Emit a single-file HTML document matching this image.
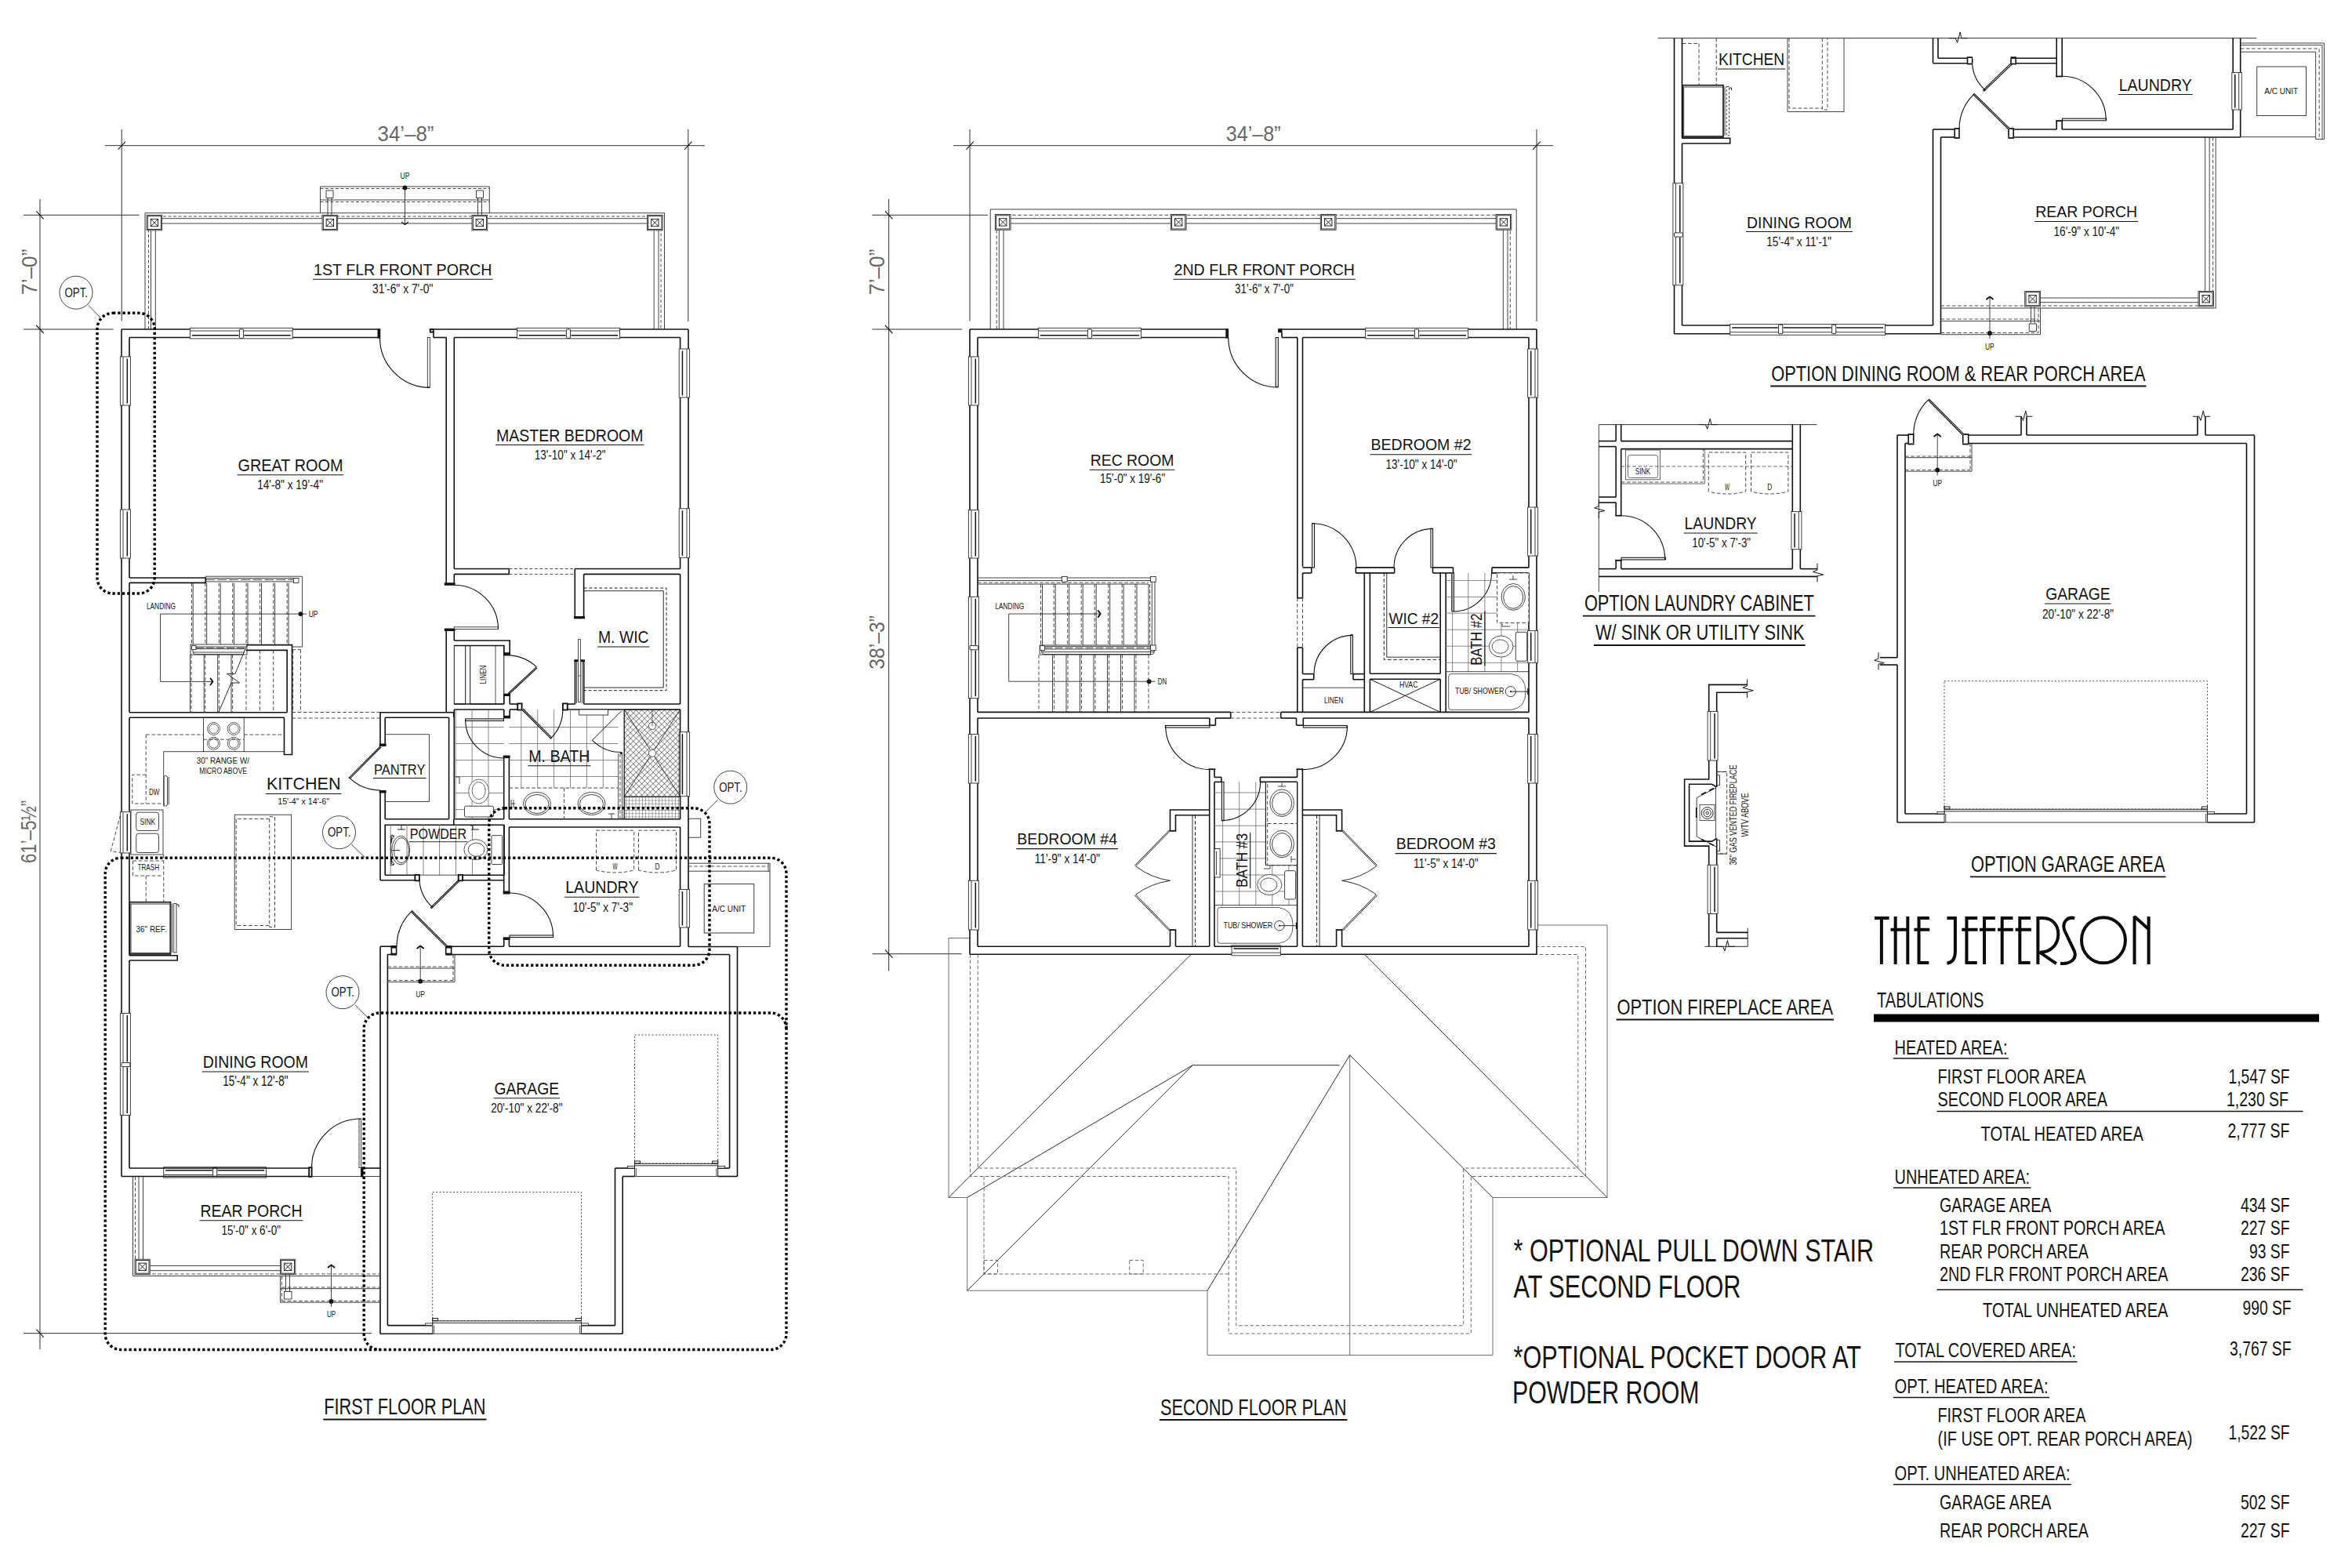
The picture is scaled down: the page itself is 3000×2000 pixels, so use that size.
<!DOCTYPE html>
<html><head><meta charset="utf-8"><title>The Jefferson</title>
<style>html,body{margin:0;padding:0;background:#fff}svg{display:block}text{font-family:"Liberation Sans",sans-serif}</style></head>
<body>
<svg width="3000" height="2000" viewBox="0 0 3000 2000" fill="none" stroke-linecap="butt">
<rect x="0" y="0" width="3000" height="2000" fill="#fff"/>
<g id="f1">
<path d="M134 185.7L899 185.7" stroke="#2e2e2e" stroke-width="1"/>
<path d="M155.2 165L155.2 409.5" stroke="#2e2e2e" stroke-width="1"/>
<path d="M877.8 165L877.8 410" stroke="#2e2e2e" stroke-width="1"/>
<path d="M150.7 190.7L160 180.7" stroke="#141414" stroke-width="1.1"/>
<path d="M873.2 190.7L882.5 180.7" stroke="#141414" stroke-width="1.1"/>
<path d="M51 253.7L51 1721" stroke="#2e2e2e" stroke-width="1"/>
<path d="M30 274.3L177.5 274.3" stroke="#2e2e2e" stroke-width="1"/>
<path d="M30 420L144.5 420" stroke="#2e2e2e" stroke-width="1"/>
<path d="M30 1700.7L474 1700.7" stroke="#2e2e2e" stroke-width="1"/>
<path d="M46.3 269.3L55.7 279.3" stroke="#141414" stroke-width="1.1"/>
<path d="M46.3 415L55.7 425" stroke="#141414" stroke-width="1.1"/>
<path d="M46.3 1695.7L55.7 1705.7" stroke="#141414" stroke-width="1.1"/>
<path d="M185 420L185 271.7L847.5 271.7L847.5 420" stroke="#383838" stroke-width="0.95" fill="none"/>
<path d="M189.5 420L189.5 276L843 276L843 420" stroke="#383838" stroke-width="0.9" fill="none" stroke-dasharray="4 2.5"/>
<path d="M207 278.7L602 278.7" stroke="#141414" stroke-width="0.8"/>
<path d="M207 285L602 285" stroke="#141414" stroke-width="0.8"/>
<path d="M621.5 278.7L825.5 278.7" stroke="#141414" stroke-width="0.8"/>
<path d="M621.5 285L825.5 285" stroke="#141414" stroke-width="0.8"/>
<path d="M192.5 293.7L192.5 420" stroke="#141414" stroke-width="0.8"/>
<path d="M198.3 293.7L198.3 420" stroke="#141414" stroke-width="0.8"/>
<path d="M834.2 293.7L834.2 420" stroke="#141414" stroke-width="0.8"/>
<path d="M840 293.7L840 420" stroke="#141414" stroke-width="0.8"/>
<path d="M408.5 271.7L408.5 238L624.3 238L624.3 271.7" stroke="#383838" stroke-width="0.95" fill="none"/>
<path d="M408.5 255L624.3 255" stroke="#383838" stroke-width="0.95"/>
<path d="M408.5 240.5L624.3 240.5" stroke="#383838" stroke-width="0.9" stroke-dasharray="4 2.5"/>
<path d="M408.5 257.5L624.3 257.5" stroke="#383838" stroke-width="0.9" stroke-dasharray="4 2.5"/>
<rect x="416" y="243" width="9" height="9.5" stroke="#141414" stroke-width="0.8" fill="#fff"/>
<path d="M418 252.5L418 274" stroke="#141414" stroke-width="0.8"/>
<path d="M423 252.5L423 274" stroke="#141414" stroke-width="0.8"/>
<rect x="607.5" y="243" width="9" height="9.5" stroke="#141414" stroke-width="0.8" fill="#fff"/>
<path d="M609.5 252.5L609.5 274" stroke="#141414" stroke-width="0.8"/>
<path d="M614.5 252.5L614.5 274" stroke="#141414" stroke-width="0.8"/>
<rect x="187" y="274.3" width="19.7" height="19.5" stroke="#383838" stroke-width="0.9" fill="#fff"/>
<rect x="188.3" y="275.6" width="17.1" height="16.9" stroke="#141414" stroke-width="0.9" fill="#fff"/>
<rect x="192.15" y="279.35" width="9.4" height="9.4" stroke="#141414" stroke-width="0.9" fill="#fff"/>
<path d="M192.15 279.35L201.55 288.75" stroke="#141414" stroke-width="0.9"/>
<path d="M192.15 288.75L201.55 279.35" stroke="#141414" stroke-width="0.9"/>
<rect x="411" y="274.3" width="19.7" height="19.5" stroke="#383838" stroke-width="0.9" fill="#fff"/>
<rect x="412.3" y="275.6" width="17.1" height="16.9" stroke="#141414" stroke-width="0.9" fill="#fff"/>
<rect x="416.15" y="279.35" width="9.4" height="9.4" stroke="#141414" stroke-width="0.9" fill="#fff"/>
<path d="M416.15 279.35L425.55 288.75" stroke="#141414" stroke-width="0.9"/>
<path d="M416.15 288.75L425.55 279.35" stroke="#141414" stroke-width="0.9"/>
<rect x="602" y="274.3" width="19.7" height="19.5" stroke="#383838" stroke-width="0.9" fill="#fff"/>
<rect x="603.3" y="275.6" width="17.1" height="16.9" stroke="#141414" stroke-width="0.9" fill="#fff"/>
<rect x="607.15" y="279.35" width="9.4" height="9.4" stroke="#141414" stroke-width="0.9" fill="#fff"/>
<path d="M607.15 279.35L616.55 288.75" stroke="#141414" stroke-width="0.9"/>
<path d="M607.15 288.75L616.55 279.35" stroke="#141414" stroke-width="0.9"/>
<rect x="825.5" y="274.3" width="19.7" height="19.5" stroke="#383838" stroke-width="0.9" fill="#fff"/>
<rect x="826.8" y="275.6" width="17.1" height="16.9" stroke="#141414" stroke-width="0.9" fill="#fff"/>
<rect x="830.65" y="279.35" width="9.4" height="9.4" stroke="#141414" stroke-width="0.9" fill="#fff"/>
<path d="M830.65 279.35L840.05 288.75" stroke="#141414" stroke-width="0.9"/>
<path d="M830.65 288.75L840.05 279.35" stroke="#141414" stroke-width="0.9"/>
<path d="M516.5 239.5L516.5 286" stroke="#141414" stroke-width="0.8"/>
<circle cx="516.5" cy="239.5" r="2.9" stroke="#141414" stroke-width="0" fill="#141414"/>
<path d="M512.2 283.27L516.5 286.5L520.8 283.27" stroke="#141414" stroke-width="1.3" fill="none" stroke-linejoin="round"/>
<text x="510.5" y="227.5" font-size="11.05" fill="#141414" font-family="Liberation Sans" textLength="12" lengthAdjust="spacingAndGlyphs" stroke="none">UP</text>
<path d="M155 420L484.5 420" stroke="#141414" stroke-width="1.62"/>
<path d="M548.7 420L878 420" stroke="#141414" stroke-width="1.62"/>
<path d="M165 430.5L484.5 430.5" stroke="#141414" stroke-width="1.62"/>
<path d="M553 430.5L569.2 430.5" stroke="#141414" stroke-width="1.62"/>
<path d="M579.3 430.5L867.6 430.5" stroke="#141414" stroke-width="1.62"/>
<rect x="481.5" y="419.4" width="3.8" height="12.1" fill="#141414" stroke="none"/>
<rect x="548.7" y="420.1" width="4.1" height="3.5" stroke="#141414" stroke-width="1.9" fill="#fff"/>
<path d="M553 424L553 430.5" stroke="#141414" stroke-width="1.62"/>
<rect x="545.3" y="430.5" width="3" height="63.3" stroke="#141414" stroke-width="0.8" fill="#fff"/>
<path d="M484.5 430.5A63.8 63.8 0 0 0 548.3 494.3" stroke="#141414" stroke-width="1.15" fill="none" />
<path d="M155 420L155 1500.5" stroke="#141414" stroke-width="1.62"/>
<path d="M165 430.5L165 737" stroke="#141414" stroke-width="1.62"/>
<path d="M165 743.4L165 908.7" stroke="#141414" stroke-width="1.62"/>
<path d="M165 915.2L165 1218.7" stroke="#141414" stroke-width="1.62"/>
<path d="M165 1225L165 1490" stroke="#141414" stroke-width="1.62"/>
<path d="M878 420L878 1207.5" stroke="#141414" stroke-width="1.62"/>
<path d="M867.6 430.5L867.6 725.5" stroke="#141414" stroke-width="1.62"/>
<path d="M867.6 732.4L867.6 898" stroke="#141414" stroke-width="1.62"/>
<path d="M867.6 905L867.6 1045" stroke="#141414" stroke-width="1.62"/>
<path d="M867.6 1055L867.6 1207" stroke="#141414" stroke-width="1.62"/>
<path d="M569.2 430.5L569.2 743.7" stroke="#141414" stroke-width="1.62"/>
<path d="M579.3 430.5L579.3 725.5" stroke="#141414" stroke-width="1.62"/>
<path d="M579.3 732.4L579.3 743.7" stroke="#141414" stroke-width="1.62"/>
<rect x="566.8" y="743.2" width="13.8" height="3.6" fill="#141414" stroke="none"/>
<path d="M579.3 725.5L649.3 725.5" stroke="#141414" stroke-width="1.62"/>
<path d="M579.3 732.4L649.3 732.4" stroke="#141414" stroke-width="1.62"/>
<path d="M649.3 725.5L649.3 732.4" stroke="#141414" stroke-width="1.62"/>
<path d="M649.3 725.5L733.3 725.5" stroke="#383838" stroke-width="0.9" stroke-dasharray="4 2.5"/>
<path d="M649.3 732.4L733.3 732.4" stroke="#383838" stroke-width="0.9" stroke-dasharray="4 2.5"/>
<path d="M733.3 725.5L867.6 725.5" stroke="#141414" stroke-width="1.62"/>
<path d="M744.6 732.4L867.6 732.4" stroke="#141414" stroke-width="1.62"/>
<path d="M733.3 725.5L733.3 788.5" stroke="#141414" stroke-width="1.62"/>
<path d="M744.6 732.4L744.6 788.5" stroke="#141414" stroke-width="1.62"/>
<rect x="732" y="786" width="14" height="3.3" fill="#141414" stroke="none"/>
<path d="M733.5 842L733.5 898" stroke="#141414" stroke-width="1.62"/>
<path d="M744.7 842L744.7 898" stroke="#141414" stroke-width="1.62"/>
<rect x="732.3" y="841.2" width="13.7" height="3" fill="#141414" stroke="none"/>
<rect x="737.5" y="815.6" width="2.9" height="79.9" stroke="#383838" stroke-width="0.9" fill="#fff"/>
<path d="M737.5 862L740.4 862" stroke="#383838" stroke-width="0.9"/>
<path d="M735.5 844L735.5 897" stroke="#383838" stroke-width="0.9"/>
<path d="M742.6 844L742.6 897" stroke="#383838" stroke-width="0.9"/>
<path d="M744.7 753.7L846.2 753.7L846.2 877L744.7 877" stroke="#141414" stroke-width="0.9" fill="none"/>
<path d="M744.7 750L850 750L850 880.7L744.7 880.7" stroke="#141414" stroke-width="0.95" fill="none" stroke-dasharray="4 2.5"/>
<path d="M744.7 898L867.6 898" stroke="#141414" stroke-width="1.62"/>
<path d="M718 905L867.6 905" stroke="#141414" stroke-width="1.62"/>
<path d="M718 898L733.5 898" stroke="#141414" stroke-width="1.62"/>
<rect x="717.9" y="897.4" width="5.9" height="8.1" stroke="#141414" stroke-width="1.9" fill="#fff"/>
<path d="M579.3 898L642.8 898" stroke="#141414" stroke-width="1.62"/>
<path d="M650.2 898L665.6 898" stroke="#141414" stroke-width="1.62"/>
<path d="M579.3 905L642.8 905" stroke="#141414" stroke-width="1.62"/>
<path d="M650.2 905L665.6 905" stroke="#141414" stroke-width="1.62"/>
<rect x="660.2" y="897.4" width="5.4" height="8.1" stroke="#141414" stroke-width="1.9" fill="#fff"/>
<path d="M569.2 802.5L569.2 908.7" stroke="#141414" stroke-width="1.62"/>
<rect x="566.8" y="801.5" width="13.8" height="3.5" fill="#141414" stroke="none"/>
<path d="M579.3 804L579.3 817" stroke="#141414" stroke-width="1.62"/>
<rect x="579.3" y="799.8" width="56.2" height="2.6" stroke="#141414" stroke-width="0.8" fill="#fff"/>
<path d="M579.3 746.2A56.2 56.2 0 0 1 635.5 802.4" stroke="#141414" stroke-width="1.15" fill="none" />
<path d="M579.3 817L650.2 817L650.2 835.6" stroke="#141414" stroke-width="1.62" fill="none"/>
<path d="M579.3 823.5L642.8 823.5L642.8 835.6" stroke="#141414" stroke-width="1.62" fill="none"/>
<rect x="642" y="832.2" width="9" height="4.2" fill="#141414" stroke="none"/>
<rect x="579.3" y="823.5" width="14.4" height="74.5" stroke="#141414" stroke-width="1" fill="none"/>
<rect x="599.7" y="823.5" width="43.1" height="74.5" stroke="#141414" stroke-width="1" fill="none"/>
<path d="M632 823.5L632 898" stroke="#383838" stroke-width="0.9"/>
<path d="M642.8 885.6L642.8 898" stroke="#141414" stroke-width="1.62"/>
<path d="M650.2 885.6L650.2 898" stroke="#141414" stroke-width="1.62"/>
<rect x="642" y="884.6" width="9" height="3.4" fill="#141414" stroke="none"/>
<path d="M642.8 905L642.8 915.6" stroke="#141414" stroke-width="1.62"/>
<path d="M650.2 905L650.2 915.6" stroke="#141414" stroke-width="1.62"/>
<rect x="642" y="912.8" width="9" height="3.6" fill="#141414" stroke="none"/>
<path d="M650.2 835.6 Q672 838 684.4 850.6" stroke="#141414" stroke-width="1.15" fill="none" />
<path d="M684.4 850.6L648.5 884L649.6 885.2L685.2 851.9" stroke="#141414" stroke-width="1.1" fill="none"/>
<text x="0" y="0" font-size="10.47" fill="#141414" font-family="Liberation Sans" textLength="24" lengthAdjust="spacingAndGlyphs" transform="translate(620.3 872.5) rotate(-90)" stroke="none">LINEN</text>
</g>
<g id="f1b">
<rect x="242.4" y="418.4" width="130.8" height="13.5" stroke="#383838" stroke-width="0.95" fill="#fff"/>
<path d="M242.4 422L373.2 422" stroke="#383838" stroke-width="0.95"/>
<path d="M244.9 427.67L304.5 427.67" stroke="#141414" stroke-width="1.5"/>
<path d="M311.5 427.67L370.7 427.67" stroke="#141414" stroke-width="1.5"/>
<rect x="305.4" y="420" width="5.2" height="11.3" stroke="#141414" stroke-width="0.9" fill="#fff" rx="0.8"/>
<rect x="659.5" y="418.4" width="131" height="13.5" stroke="#383838" stroke-width="0.95" fill="#fff"/>
<path d="M659.5 422L790.5 422" stroke="#383838" stroke-width="0.95"/>
<path d="M662 427.67L721.5 427.67" stroke="#141414" stroke-width="1.5"/>
<path d="M728.5 427.67L788 427.67" stroke="#141414" stroke-width="1.5"/>
<rect x="722.4" y="420" width="5.2" height="11.3" stroke="#141414" stroke-width="0.9" fill="#fff" rx="0.8"/>
<rect x="153.4" y="455" width="13" height="62" stroke="#383838" stroke-width="0.95" fill="#fff"/>
<path d="M157 455L157 517" stroke="#383838" stroke-width="0.95"/>
<path d="M162.3 457.5L162.3 514.5" stroke="#141414" stroke-width="1.5"/>
<rect x="153.4" y="650" width="13" height="62" stroke="#383838" stroke-width="0.95" fill="#fff"/>
<path d="M157 650L157 712" stroke="#383838" stroke-width="0.95"/>
<path d="M162.3 652.5L162.3 709.5" stroke="#141414" stroke-width="1.5"/>
<rect x="866.2" y="445" width="13.4" height="62" stroke="#383838" stroke-width="0.95" fill="#fff"/>
<path d="M876 445L876 507" stroke="#383838" stroke-width="0.95"/>
<path d="M870.41 447.5L870.41 504.5" stroke="#141414" stroke-width="1.5"/>
<rect x="866.2" y="648.7" width="13.4" height="62.6" stroke="#383838" stroke-width="0.95" fill="#fff"/>
<path d="M876 648.7L876 711.3" stroke="#383838" stroke-width="0.95"/>
<path d="M870.41 651.2L870.41 708.8" stroke="#141414" stroke-width="1.5"/>
<rect x="866.2" y="933.7" width="13.4" height="82" stroke="#383838" stroke-width="0.95" fill="#fff"/>
<path d="M876 933.7L876 1015.7" stroke="#383838" stroke-width="0.95"/>
<path d="M870.41 936.2L870.41 1013.2" stroke="#141414" stroke-width="1.5"/>
<rect x="866.2" y="1134.5" width="13.4" height="48.5" stroke="#383838" stroke-width="0.95" fill="#fff"/>
<path d="M876 1134.5L876 1183" stroke="#383838" stroke-width="0.95"/>
<path d="M870.41 1137L870.41 1180.5" stroke="#141414" stroke-width="1.5"/>
<rect x="153.4" y="1035.7" width="13" height="52.3" stroke="#383838" stroke-width="0.95" fill="#fff"/>
<path d="M157 1035.7L157 1088" stroke="#383838" stroke-width="0.95"/>
<path d="M162.3 1038.2L162.3 1085.5" stroke="#141414" stroke-width="1.5"/>
<rect x="153.4" y="1292.5" width="13" height="130" stroke="#383838" stroke-width="0.95" fill="#fff"/>
<path d="M157 1292.5L157 1422.5" stroke="#383838" stroke-width="0.95"/>
<path d="M162.3 1295L162.3 1354.5" stroke="#141414" stroke-width="1.5"/>
<path d="M162.3 1361.5L162.3 1420" stroke="#141414" stroke-width="1.5"/>
<rect x="155" y="1355.4" width="10.8" height="5.2" stroke="#141414" stroke-width="0.9" fill="#fff" rx="0.8"/>
<rect x="208.7" y="1488.6" width="130.8" height="13.5" stroke="#383838" stroke-width="0.95" fill="#fff"/>
<path d="M208.7 1498.5L339.5 1498.5" stroke="#383838" stroke-width="0.95"/>
<path d="M211.2 1492.84L270.7 1492.84" stroke="#141414" stroke-width="1.5"/>
<path d="M277.7 1492.84L337 1492.84" stroke="#141414" stroke-width="1.5"/>
<rect x="271.6" y="1489.2" width="5.2" height="11.3" stroke="#141414" stroke-width="0.9" fill="#fff" rx="0.8"/>
<path d="M153.5 1040L141.2 1085.7L153.5 1087.5" stroke="#383838" stroke-width="0.9" fill="none" stroke-dasharray="4.6 2.6"/>
<path d="M165 737L262.2 737L262.2 743.4L165 743.4" stroke="#141414" stroke-width="1.62" fill="none"/>
<path d="M262.2 737L262.2 735.2L385.6 735.2L385.6 825L372.5 825" stroke="#383838" stroke-width="0.95" fill="none"/>
<path d="M262.2 737.5L374.4 737.5" stroke="#141414" stroke-width="0.8"/>
<path d="M262.2 741.9L374.4 741.9" stroke="#141414" stroke-width="0.8"/>
<path d="M262.2 739.5L374.4 739.5" stroke="#383838" stroke-width="0.9" stroke-dasharray="12 3"/>
<rect x="374.4" y="737.5" width="6.6" height="6.1" stroke="#141414" stroke-width="0.8" fill="#fff"/>
<path d="M263.7 743.6L263.7 822" stroke="#383838" stroke-width="0.95"/>
<path d="M261.8 743.6L261.8 822" stroke="#383838" stroke-width="0.9" stroke-dasharray="4.6 2.6"/>
<path d="M281.2 743.6L281.2 822" stroke="#383838" stroke-width="0.95"/>
<path d="M279.3 743.6L279.3 822" stroke="#383838" stroke-width="0.9" stroke-dasharray="4.6 2.6"/>
<path d="M298.5 743.6L298.5 822" stroke="#383838" stroke-width="0.95"/>
<path d="M296.6 743.6L296.6 822" stroke="#383838" stroke-width="0.9" stroke-dasharray="4.6 2.6"/>
<path d="M316 743.6L316 822" stroke="#383838" stroke-width="0.95"/>
<path d="M314.1 743.6L314.1 822" stroke="#383838" stroke-width="0.9" stroke-dasharray="4.6 2.6"/>
<path d="M333.5 743.6L333.5 822" stroke="#383838" stroke-width="0.95"/>
<path d="M331.6 743.6L331.6 822" stroke="#383838" stroke-width="0.9" stroke-dasharray="4.6 2.6"/>
<path d="M350.6 743.6L350.6 822" stroke="#383838" stroke-width="0.95"/>
<path d="M348.7 743.6L348.7 822" stroke="#383838" stroke-width="0.9" stroke-dasharray="4.6 2.6"/>
<path d="M368.1 743.6L368.1 822" stroke="#383838" stroke-width="0.95"/>
<path d="M366.2 743.6L366.2 822" stroke="#383838" stroke-width="0.9" stroke-dasharray="4.6 2.6"/>
<path d="M246.2 743.6L246.2 822" stroke="#383838" stroke-width="0.95"/>
<path d="M244.5 743.6L244.5 822" stroke="#383838" stroke-width="0.9" stroke-dasharray="4.6 2.6"/>
<path d="M242.5 835L242.5 908.7" stroke="#383838" stroke-width="0.95"/>
<path d="M244.1 835L244.1 908.7" stroke="#383838" stroke-width="0.9" stroke-dasharray="4.6 2.6"/>
<path d="M260.2 835L260.2 908.7" stroke="#383838" stroke-width="0.95"/>
<path d="M261.8 835L261.8 908.7" stroke="#383838" stroke-width="0.9" stroke-dasharray="4.6 2.6"/>
<path d="M277.7 835L277.7 908.7" stroke="#383838" stroke-width="0.95"/>
<path d="M279.3 835L279.3 908.7" stroke="#383838" stroke-width="0.9" stroke-dasharray="4.6 2.6"/>
<path d="M295 835L295 908.7" stroke="#383838" stroke-width="0.95"/>
<path d="M296.6 835L296.6 908.7" stroke="#383838" stroke-width="0.9" stroke-dasharray="4.6 2.6"/>
<path d="M314 829.4L314 908.7" stroke="#383838" stroke-width="0.9" stroke-dasharray="4.6 2.6"/>
<path d="M331.5 829.4L331.5 908.7" stroke="#383838" stroke-width="0.9" stroke-dasharray="4.6 2.6"/>
<path d="M348.7 829.4L348.7 908.7" stroke="#383838" stroke-width="0.9" stroke-dasharray="4.6 2.6"/>
<path d="M373.7 828.7L373.7 908.7" stroke="#383838" stroke-width="0.9" stroke-dasharray="4.6 2.6"/>
<path d="M383.5 828.7L383.5 908.7" stroke="#383838" stroke-width="0.9" stroke-dasharray="4.6 2.6"/>
<path d="M372.5 828.7L383.5 828.7" stroke="#383838" stroke-width="0.9" stroke-dasharray="4.6 2.6"/>
<rect x="243" y="822" width="72" height="13" stroke="#383838" stroke-width="0.95" fill="#fff"/>
<path d="M250 825L313.5 825" stroke="#141414" stroke-width="0.8"/>
<path d="M250 827.7L312.5 827.7" stroke="#141414" stroke-width="0.8"/>
<path d="M250 826.4L312 826.4" stroke="#383838" stroke-width="0.9" stroke-dasharray="10 3"/>
<rect x="244.6" y="823.7" width="5.4" height="5" stroke="#141414" stroke-width="0.8" fill="#fff"/>
<path d="M246 828.7V831Q246 834.7 249.5 834.7H310.5M246.5 832H311.5" stroke="#141414" stroke-width="0.8" fill="none" />
<path d="M315 822.6L372.5 822.6L372.5 962.5L362.5 962.5L362.5 915.2" stroke="#141414" stroke-width="1.62" fill="none"/>
<path d="M313.7 829.4L366.2 829.4L366.2 908.7" stroke="#141414" stroke-width="1.62" fill="none"/>
<path d="M315 822.6L300 859.4L289.7 859.4L305.6 871L295 871L278.7 908.7" stroke="#141414" stroke-width="0.9" fill="none"/>
<path d="M165 908.7L366.2 908.7" stroke="#141414" stroke-width="1.62"/>
<path d="M165 915.2L362.5 915.2" stroke="#141414" stroke-width="1.62"/>
<path d="M372.5 908.5L485 908.5" stroke="#383838" stroke-width="0.9" stroke-dasharray="4.6 2.6"/>
<path d="M372.5 916L485 916" stroke="#383838" stroke-width="0.9" stroke-dasharray="4.6 2.6"/>
<path d="M383.5 783.1L204.6 783.1L204.6 869.4L271 869.4" stroke="#141414" stroke-width="0.8" fill="none"/>
<circle cx="383.5" cy="783.1" r="2.9" stroke="#141414" stroke-width="0" fill="#141414"/>
<path d="M383.5 783.1L391.2 783.1" stroke="#141414" stroke-width="0.8"/>
<path d="M268.05 864.8L271.5 869.4L268.05 874" stroke="#141414" stroke-width="1.9" fill="none" stroke-linejoin="round"/>
<text x="393.7" y="787.2" font-size="11.48" fill="#141414" font-family="Liberation Sans" textLength="11.9" lengthAdjust="spacingAndGlyphs" stroke="none">UP</text>
<text x="186.9" y="776.5" font-size="11.63" fill="#141414" font-family="Liberation Sans" textLength="37.1" lengthAdjust="spacingAndGlyphs" stroke="none">LANDING</text>
<rect x="259.5" y="915.2" width="51.7" height="43.5" stroke="#141414" stroke-width="0.8" fill="none"/>
<circle cx="272.5" cy="929.5" r="8" stroke="#383838" stroke-width="0.8" fill="none"/>
<circle cx="272.5" cy="929.5" r="6" stroke="#383838" stroke-width="0.8" fill="none"/>
<circle cx="272.5" cy="948.2" r="8" stroke="#383838" stroke-width="0.8" fill="none"/>
<circle cx="272.5" cy="948.2" r="6" stroke="#383838" stroke-width="0.8" fill="none"/>
<circle cx="298.2" cy="929.5" r="8" stroke="#383838" stroke-width="0.8" fill="none"/>
<circle cx="298.2" cy="929.5" r="6" stroke="#383838" stroke-width="0.8" fill="none"/>
<circle cx="298.2" cy="948.2" r="8" stroke="#383838" stroke-width="0.8" fill="none"/>
<circle cx="298.2" cy="948.2" r="6" stroke="#383838" stroke-width="0.8" fill="none"/>
<path d="M259.5 943.2L311.2 943.2" stroke="#383838" stroke-width="0.9" stroke-dasharray="4.6 2.6"/>
<path d="M208.7 958.7L259.5 958.7" stroke="#141414" stroke-width="0.8"/>
<path d="M311.2 958.7L362.5 958.7" stroke="#141414" stroke-width="0.8"/>
<path d="M208.7 958.7L208.7 1028.7" stroke="#141414" stroke-width="0.8"/>
<path d="M186.2 937L259.5 937" stroke="#383838" stroke-width="0.9" stroke-dasharray="4.6 2.6"/>
<path d="M311.2 937L362.5 937" stroke="#383838" stroke-width="0.9" stroke-dasharray="4.6 2.6"/>
<path d="M186.2 937L186.2 1025" stroke="#383838" stroke-width="0.9" stroke-dasharray="4.6 2.6"/>
<path d="M186.2 988.2L168.7 988.2L168.7 1025L208.7 1025" stroke="#383838" stroke-width="0.9" fill="none" stroke-dasharray="4.6 2.6"/>
<rect x="209.2" y="989.5" width="4.3" height="38.5" stroke="#141414" stroke-width="0.8" fill="#fff" rx="2"/>
<path d="M215.3 991L215.3 1026.5" stroke="#141414" stroke-width="0.8"/>
<text x="190" y="1013.5" font-size="11.34" fill="#141414" font-family="Liberation Sans" textLength="13.5" lengthAdjust="spacingAndGlyphs" stroke="none">DW</text>
<rect x="167" y="1033" width="41" height="57" stroke="#141414" stroke-width="0.8" fill="none"/>
<rect x="173.7" y="1036.2" width="28.8" height="23.3" stroke="#141414" stroke-width="0.8" fill="none" rx="3"/>
<rect x="173.7" y="1063.2" width="28.8" height="24.3" stroke="#141414" stroke-width="0.8" fill="none" rx="3"/>
<text x="178.5" y="1051.5" font-size="11.34" fill="#141414" font-family="Liberation Sans" textLength="19.5" lengthAdjust="spacingAndGlyphs" stroke="none">SINK</text>
<path d="M169.5 1098L169.5 1117L208 1117" stroke="#383838" stroke-width="0.9" fill="none" stroke-dasharray="4.6 2.6"/>
<path d="M169.5 1098L208 1098" stroke="#383838" stroke-width="0.9" stroke-dasharray="4.6 2.6"/>
<text x="175.5" y="1109.5" font-size="11.34" fill="#141414" font-family="Liberation Sans" textLength="27.5" lengthAdjust="spacingAndGlyphs" stroke="none">TRASH</text>
<path d="M208.7 1090L208.7 1150" stroke="#383838" stroke-width="0.9" stroke-dasharray="4.6 2.6"/>
<path d="M186.2 1117L186.2 1150" stroke="#383838" stroke-width="0.9" stroke-dasharray="4.6 2.6"/>
<rect x="165.5" y="1150.7" width="52" height="66.3" stroke="#141414" stroke-width="1.62" fill="none"/>
<rect x="167" y="1153" width="50" height="62.5" stroke="#383838" stroke-width="0.95" fill="none"/>
<path d="M219.5 1152.5L219.5 1215" stroke="#383838" stroke-width="0.95"/>
<rect x="221.7" y="1152.5" width="3.3" height="62.5" stroke="#383838" stroke-width="0.95" fill="none"/>
<path d="M225 1154L228 1154" stroke="#141414" stroke-width="0.95"/>
<path d="M228 1154L228 1157" stroke="#141414" stroke-width="0.95"/>
<text x="173.5" y="1188.5" font-size="11.63" fill="#141414" font-family="Liberation Sans" textLength="39" lengthAdjust="spacingAndGlyphs" stroke="none">36&quot; REF.</text>
<path d="M165 1218.7L226.2 1218.7L226.2 1225L165 1225" stroke="#141414" stroke-width="1.62" fill="none"/>
<rect x="299.2" y="1039.2" width="72.5" height="146.3" stroke="#141414" stroke-width="0.8" fill="none"/>
<path d="M343.7 1044.5L301.2 1044.5L301.2 1180.5L343.7 1180.5" stroke="#383838" stroke-width="0.9" fill="none" stroke-dasharray="4.6 2.6"/>
<rect x="343.7" y="1041.7" width="6.8" height="140.8" stroke="#383838" stroke-width="0.9" fill="none" stroke-dasharray="4.6 2.6"/>
<text x="250.7" y="974" font-size="11.63" fill="#141414" font-family="Liberation Sans" textLength="67.3" lengthAdjust="spacingAndGlyphs" stroke="none">30&quot; RANGE W/</text>
<text x="254.2" y="987" font-size="11.63" fill="#141414" font-family="Liberation Sans" textLength="60.8" lengthAdjust="spacingAndGlyphs" stroke="none">MICRO ABOVE</text>
<path d="M372.5 908.7L372.5 908.7" stroke="#141414" stroke-width="1.62" fill="none"/>
<path d="M485 908.7L569.2 908.7" stroke="#141414" stroke-width="1.62"/>
<path d="M491.2 915.2L572.6 915.2" stroke="#141414" stroke-width="1.62"/>
<path d="M485 908.7L485 951.2" stroke="#141414" stroke-width="1.62"/>
<path d="M491.2 915.2L491.2 951.2" stroke="#141414" stroke-width="1.62"/>
<rect x="483.7" y="948.5" width="8.9" height="3.5" fill="#141414" stroke="none"/>
<path d="M485 1008.7L485 1122.7" stroke="#141414" stroke-width="1.62"/>
<path d="M491.2 1008.7L491.2 1044.7" stroke="#141414" stroke-width="1.62"/>
<rect x="483.7" y="1008" width="8.9" height="3.5" fill="#141414" stroke="none"/>
<path d="M572.6 915.2L572.6 1044.7" stroke="#141414" stroke-width="1.62"/>
<path d="M491.2 1044.7L572.6 1044.7" stroke="#141414" stroke-width="1.62"/>
<path d="M492 936.7L547.5 936.7L547.5 1022.5L492 1022.5" stroke="#141414" stroke-width="0.8" fill="none"/>
<path d="M485 952L445.5 991.7L446.6 992.8L486 953.2" stroke="#141414" stroke-width="1.1" fill="none"/>
<path d="M445.05 991.45A56.5 56.5 0 0 0 485 1008" stroke="#141414" stroke-width="1.15" fill="none" />
<path d="M491.2 1116.2L491.2 1052.2L643 1052.2L643 1116.2" stroke="#141414" stroke-width="1.62" fill="none"/>
<path d="M491.2 1116.2L535 1116.2" stroke="#141414" stroke-width="1.62"/>
<path d="M584.4 1116.2L643 1116.2" stroke="#141414" stroke-width="1.62"/>
<path d="M485 1122.7L535 1122.7" stroke="#141414" stroke-width="1.62"/>
<path d="M584.4 1122.7L643 1122.7" stroke="#141414" stroke-width="1.62"/>
<rect x="529.4" y="1115.9" width="5.5" height="7.4" stroke="#141414" stroke-width="1.9" fill="#fff"/>
<rect x="584.7" y="1115.9" width="5.4" height="7.4" stroke="#141414" stroke-width="1.9" fill="#fff"/>
<path d="M535 1116.2L584.4 1116.2" stroke="#383838" stroke-width="0.9"/>
<path d="M498.1 1052.2L498.1 1116.2" stroke="#777" stroke-width="0.9"/>
<path d="M519 1052.2L519 1116.2" stroke="#777" stroke-width="0.9"/>
<path d="M540 1052.2L540 1116.2" stroke="#777" stroke-width="0.9"/>
<path d="M560.6 1052.2L560.6 1116.2" stroke="#777" stroke-width="0.9"/>
<path d="M581.5 1052.2L581.5 1116.2" stroke="#777" stroke-width="0.9"/>
<path d="M602.5 1052.2L602.5 1116.2" stroke="#777" stroke-width="0.9"/>
<path d="M584.4 1123L549.4 1157.5L550.6 1158.6L585.6 1124.2" stroke="#141414" stroke-width="1.1" fill="none"/>
<path d="M534.97 1122.59A49.5 49.5 0 0 0 551.93 1157.36" stroke="#141414" stroke-width="1.15" fill="none" />
<ellipse cx="511.2" cy="1084.6" rx="11.5" ry="18.4" stroke="#333" stroke-width="0.9" fill="none"/>
<ellipse cx="512" cy="1084.6" rx="9.5" ry="16" stroke="#383838" stroke-width="0.9" fill="none"/>
<path d="M503 1066.5Q499 1066 498.5 1070V1099Q499 1103 503 1102.7" stroke="#333" stroke-width="0.9" fill="none" />
<circle cx="500.3" cy="1067.3" r="2" stroke="#141414" stroke-width="0.9" fill="none"/>
<circle cx="500.3" cy="1101.8" r="2" stroke="#141414" stroke-width="0.9" fill="none"/>
<path d="M500 1084.6L510 1084.6" stroke="#383838" stroke-width="1.1"/>
<path d="M500 1069.5L498.5 1076M500 1099.5L498.5 1093" stroke="#141414" stroke-width="1.3" fill="none" />
<ellipse cx="606.9" cy="1083.7" rx="15" ry="13" stroke="#444" stroke-width="0.9" fill="#fff"/>
<ellipse cx="607.6" cy="1083.7" rx="10.4" ry="8.6" stroke="#444" stroke-width="0.9" fill="none"/>
<rect x="626.9" y="1065.6" width="13.7" height="36.9" stroke="#383838" stroke-width="0.95" fill="none" rx="1.5"/>
<path d="M507 1058L517 1058" stroke="#141414" stroke-width="0.95"/>
<path d="M512 1053L512 1058" stroke="#141414" stroke-width="0.95"/>
<path d="M601 1058L611 1058" stroke="#141414" stroke-width="0.95"/>
<path d="M600 1053L603 1053L603 1058" stroke="#141414" stroke-width="0.95" fill="none"/>
<text x="522.7" y="1069.7" font-size="17.44" fill="#141414" font-family="Liberation Sans" textLength="72.5" lengthAdjust="spacingAndGlyphs" stroke="none">POWDER</text>
<path d="M521.7 1073.7L596.2 1073.7" stroke="#141414" stroke-width="0.9"/>
<path d="M579.3 905L579.3 1044.7" stroke="#141414" stroke-width="1.62"/>
<path d="M579.3 1044.7L642.7 1044.7" stroke="#141414" stroke-width="1.62"/>
<path d="M649.4 1044.7L867.6 1044.7" stroke="#141414" stroke-width="1.62"/>
<path d="M569.2 908.7L578.8 908.7" stroke="#141414" stroke-width="1.62"/>
<path d="M578.8 908.7L578.8 915" stroke="#141414" stroke-width="1.62"/>
<path d="M578.8 1044.7L578.8 1052.2" stroke="#141414" stroke-width="1.62"/>
<path d="M642.7 966L642.7 1044.7" stroke="#141414" stroke-width="1.62"/>
<path d="M649.4 966L649.4 1044.7" stroke="#141414" stroke-width="1.62"/>
<rect x="641.7" y="963.5" width="8.9" height="3.5" fill="#141414" stroke="none"/>
<g stroke="#6a6a6a" stroke-width="0.8">
<path d="M581.2 905V1044.7"/>
<path d="M602.1 905V1044.7"/>
<path d="M623 905V1044.7"/>
<path d="M643.9 905V905"/>
<path d="M664.8 905V1005"/>
<path d="M685.7 905V1005"/>
<path d="M706.6 905V1005"/>
<path d="M727.5 905V1005"/>
<path d="M748.4 905V1005"/>
<path d="M769.3 905V1005"/>
<path d="M579.3 927.5H642.7"/>
<path d="M649.4 927.5H788.7"/>
<path d="M579.3 948.5H642.7"/>
<path d="M649.4 948.5H788.7"/>
<path d="M579.3 969.5H642.7"/>
<path d="M649.4 969.5H788.7"/>
<path d="M579.3 990.5H642.7"/>
<path d="M649.4 990.5H788.7"/>
<path d="M579.3 1011.5H642.7"/>
<path d="M579.3 1032.5H642.7"/>
</g>
<rect x="593.7" y="916.9" width="48.8" height="2.5" stroke="#141414" stroke-width="1.1" fill="#fff"/>
<path d="M593.7 918A49 49 0 0 0 642.7 967" stroke="#141414" stroke-width="1.15" fill="none" />
<path d="M665.6 905L702.5 941.9L703.7 940.7L667 904" stroke="#141414" stroke-width="1.1" fill="#fff"/>
<path d="M702.51 941.91A52.2 52.2 0 0 0 717.8 905" stroke="#141414" stroke-width="1.15" fill="none" />
<rect x="738.7" y="905" width="36.9" height="7" stroke="#141414" stroke-width="0.8" fill="#fff"/>
<defs><pattern id="xh" width="5.1" height="5.1" patternUnits="userSpaceOnUse" patternTransform="rotate(45)"><path d="M0 0H5.1M0 0V5.1" stroke="#222" stroke-width="0.95"/></pattern><pattern id="sq" width="4.2" height="4.2" patternUnits="userSpaceOnUse"><path d="M0 0H4.2M0 0V4.2" stroke="#333" stroke-width="0.8"/></pattern></defs>
<rect x="796.2" y="905" width="71.4" height="111.2" fill="url(#xh)" stroke="#222" stroke-width="0.9"/>
<rect x="796.2" y="1016.2" width="71.4" height="28.5" fill="url(#sq)" stroke="#222" stroke-width="0.9"/>
<path d="M796.2 905L867.6 1016.2" stroke="#333" stroke-width="0.95"/>
<path d="M867.6 905L796.2 1016.2" stroke="#333" stroke-width="0.95"/>
<circle cx="832" cy="926" r="4.6" stroke="#383838" stroke-width="0.8" fill="#fff"/>
<circle cx="832" cy="960.7" r="4.6" stroke="#383838" stroke-width="0.8" fill="#fff"/>
<path d="M832 905L832 926" stroke="#383838" stroke-width="0.8"/>
<path d="M788.7 961.2L788.7 1044.7" stroke="#141414" stroke-width="0.8"/>
<path d="M796.2 905L796.2 1044.7" stroke="#141414" stroke-width="0.9"/>
<path d="M791 961.2L791 1044.7" stroke="#383838" stroke-width="0.9" stroke-dasharray="4.6 2.6"/>
<path d="M793.5 961.2L793.5 1044.7" stroke="#383838" stroke-width="0.9"/>
<path d="M792.5 907L755.6 944" stroke="#141414" stroke-width="1" fill="none"/>
<path d="M755.38 944.12A52.5 52.5 0 0 0 792.5 959.5" stroke="#141414" stroke-width="1.1" fill="none" />
<circle cx="792.5" cy="960.5" r="1.5" stroke="#141414" stroke-width="0" fill="#141414"/>
<path d="M649.4 1005L788.7 1005" stroke="#383838" stroke-width="0.95" stroke-dasharray="4.6 2.6"/>
<path d="M719.5 1005L719.5 1044.7" stroke="#383838" stroke-width="0.9" stroke-dasharray="4.6 2.6"/>
<ellipse cx="685" cy="1025" rx="17.5" ry="14.5" stroke="#333" stroke-width="0.9" fill="#fff"/>
<ellipse cx="685" cy="1025.5" rx="15" ry="12" stroke="#383838" stroke-width="0.95" fill="none"/>
<ellipse cx="754.5" cy="1025" rx="17.5" ry="14.5" stroke="#333" stroke-width="0.9" fill="#fff"/>
<ellipse cx="754.5" cy="1025.5" rx="15" ry="12" stroke="#383838" stroke-width="0.95" fill="none"/>
<path d="M652 1020V1030M655 1020V1030M652 1025H657" stroke="#141414" stroke-width="0.8" fill="none" />
<path d="M776 1038H784M780 1038V1044" stroke="#141414" stroke-width="0.8" fill="none" />
<rect x="592.5" y="1028.2" width="37" height="13.8" stroke="#383838" stroke-width="0.95" fill="#fff" rx="2"/>
<ellipse cx="610.7" cy="1009.5" rx="13" ry="15.5" stroke="#444" stroke-width="0.8" fill="#fff"/>
<ellipse cx="610.7" cy="1008.5" rx="8.5" ry="11" stroke="#444" stroke-width="0.8" fill="none"/>
<path d="M581.5 991H586V1000" stroke="#141414" stroke-width="0.8" fill="none" />
<text x="674.2" y="971.7" font-size="21.51" fill="#141414" font-family="Liberation Sans" textLength="78.3" lengthAdjust="spacingAndGlyphs" stroke="none">M. BATH</text>
<path d="M673.2 976.7L753.5 976.7" stroke="#141414" stroke-width="1.1"/>
<path d="M649.4 1055L867.6 1055" stroke="#141414" stroke-width="1.62"/>
<path d="M642.7 1052.2L642.7 1140" stroke="#141414" stroke-width="1.62"/>
<path d="M649.4 1055L649.4 1140" stroke="#141414" stroke-width="1.62"/>
<rect x="641.7" y="1136.5" width="8.9" height="4" fill="#141414" stroke="none"/>
<rect x="650" y="1193" width="55.6" height="2.6" stroke="#141414" stroke-width="1.1" fill="#fff"/>
<path d="M649.6 1139A56 56 0 0 1 705.6 1195" stroke="#141414" stroke-width="1.15" fill="none" />
<path d="M642.7 1207.2L642.7 1196.2L649.4 1196.2L649.4 1207.2" stroke="#141414" stroke-width="1.62" fill="none"/>
<rect x="641.7" y="1195.7" width="8.9" height="3.3" fill="#141414" stroke="none"/>
<path d="M649.4 1207.2L867.6 1207.2" stroke="#141414" stroke-width="1.62"/>
<path d="M760.5 1110V1059.2H808.7V1110Q784.6 1116 760.5 1110" stroke="#383838" stroke-width="0.9" fill="none" stroke-dasharray="4.6 2.6" />
<text x="781.6" y="1108.7" font-size="10.76" fill="#141414" font-family="Liberation Sans" textLength="6" lengthAdjust="spacingAndGlyphs" stroke="none">W</text>
<path d="M814.5 1110V1059.2H862.5V1110Q838.5 1116 814.5 1110" stroke="#383838" stroke-width="0.9" fill="none" stroke-dasharray="4.6 2.6" />
<text x="835.5" y="1108.7" font-size="10.76" fill="#141414" font-family="Liberation Sans" textLength="6" lengthAdjust="spacingAndGlyphs" stroke="none">D</text>
<text x="721.2" y="1139.2" font-size="21.8" fill="#141414" font-family="Liberation Sans" textLength="93.3" lengthAdjust="spacingAndGlyphs" stroke="none">LAUNDRY</text>
<path d="M720.2 1144.2L815.5 1144.2" stroke="#141414" stroke-width="1.1"/>
<path d="M878 1101.2L982 1101.2L982 1207.5L878 1207.5" stroke="#383838" stroke-width="0.95" fill="none"/>
<path d="M878 1105L980 1105" stroke="#383838" stroke-width="0.9" stroke-dasharray="4.6 2.6"/>
<path d="M878 1111.2L982 1111.2" stroke="#383838" stroke-width="0.95"/>
<path d="M980 1101.2L980 1111.2" stroke="#383838" stroke-width="0.95"/>
<rect x="898.2" y="1127.5" width="63.5" height="62.5" stroke="#383838" stroke-width="0.95" fill="none"/>
<text x="908.2" y="1162.5" font-size="11.05" fill="#141414" font-family="Liberation Sans" textLength="43" lengthAdjust="spacingAndGlyphs" stroke="none">A/C UNIT</text>
<rect x="878" y="1044.2" width="15.7" height="24" stroke="#383838" stroke-width="0.95" fill="none"/>
<path d="M485 1207.2L499.4 1207.2" stroke="#141414" stroke-width="1.62"/>
<path d="M575.6 1207.2L642.7 1207.2" stroke="#141414" stroke-width="1.62"/>
<path d="M494.4 1217.5L499.4 1217.5" stroke="#141414" stroke-width="1.62"/>
<path d="M575.6 1217.5L930.6 1217.5" stroke="#141414" stroke-width="1.62"/>
<rect x="498.6" y="1206" width="7.4" height="3.5" fill="#141414" stroke="none"/>
<rect x="568.3" y="1206" width="8.1" height="3.5" fill="#141414" stroke="none"/>
<path d="M499.4 1207.2L499.4 1217.5" stroke="#141414" stroke-width="1.62"/>
<path d="M505.6 1207.2L505.6 1217.5" stroke="#141414" stroke-width="1.62"/>
<path d="M568.7 1207.2L568.7 1217.5" stroke="#141414" stroke-width="1.62"/>
<path d="M575.6 1207.2L575.6 1217.5" stroke="#141414" stroke-width="1.62"/>
<rect x="498.6" y="1215.7" width="7.4" height="2.9" fill="#141414" stroke="none"/>
<rect x="568.3" y="1215.7" width="8.1" height="2.9" fill="#141414" stroke="none"/>
<path d="M485 1207.2L485 1701.2" stroke="#141414" stroke-width="1.62"/>
<path d="M494.4 1217.5L494.4 1690.6" stroke="#141414" stroke-width="1.62"/>
<path d="M878 1207.5L940.5 1207.5" stroke="#141414" stroke-width="1.62"/>
<path d="M940.5 1207.5L940.5 1500.5" stroke="#141414" stroke-width="1.62"/>
<path d="M930.6 1217.5L930.6 1490" stroke="#141414" stroke-width="1.62"/>
<path d="M784.5 1490L809.5 1490" stroke="#141414" stroke-width="1.62"/>
<path d="M915.7 1490L930.6 1490" stroke="#141414" stroke-width="1.62"/>
<path d="M794.2 1500.5L809.5 1500.5" stroke="#141414" stroke-width="1.62"/>
<path d="M915.7 1500.5L940.5 1500.5" stroke="#141414" stroke-width="1.62"/>
<path d="M809.5 1500.5L915.7 1500.5" stroke="#383838" stroke-width="0.95"/>
<path d="M784.5 1490L784.5 1690.6" stroke="#141414" stroke-width="1.62"/>
<path d="M794.2 1500.5L794.2 1701.2" stroke="#141414" stroke-width="1.62"/>
<path d="M494.4 1690.6L551.7 1690.6" stroke="#141414" stroke-width="1.62"/>
<path d="M741.5 1690.6L784.5 1690.6" stroke="#141414" stroke-width="1.62"/>
<path d="M485 1701.2L551.7 1701.2" stroke="#141414" stroke-width="1.62"/>
<path d="M741.5 1701.2L794.2 1701.2" stroke="#141414" stroke-width="1.62"/>
<path d="M551.7 1701.2L741.5 1701.2" stroke="#383838" stroke-width="0.95"/>
<path d="M809.5 1484.3L915.7 1484.3" stroke="#141414" stroke-width="0.9"/>
<path d="M809.5 1486.8L915.7 1486.8" stroke="#141414" stroke-width="0.9"/>
<path d="M809.5 1486.8L809.5 1500.5" stroke="#141414" stroke-width="0.9"/>
<path d="M811.3 1490L811.3 1500.5" stroke="#383838" stroke-width="0.9"/>
<rect x="800.5" y="1487.3" width="9" height="2.7" stroke="#141414" stroke-width="0.8" fill="#fff"/>
<rect x="809.5" y="1481" width="7" height="3" stroke="#141414" stroke-width="0.95" fill="none"/>
<path d="M809.5 1479L809.5 1487" stroke="#141414" stroke-width="0.8"/>
<path d="M915.7 1486.8L915.7 1500.5" stroke="#141414" stroke-width="0.9"/>
<path d="M913.9 1490L913.9 1500.5" stroke="#383838" stroke-width="0.9"/>
<rect x="915.7" y="1487.3" width="9" height="2.7" stroke="#141414" stroke-width="0.8" fill="#fff"/>
<rect x="908.7" y="1481" width="7" height="3" stroke="#141414" stroke-width="0.95" fill="none"/>
<path d="M915.7 1479L915.7 1487" stroke="#141414" stroke-width="0.8"/>
<path d="M551.7 1684.9L741.5 1684.9" stroke="#141414" stroke-width="0.9"/>
<path d="M551.7 1687.4L741.5 1687.4" stroke="#141414" stroke-width="0.9"/>
<path d="M551.7 1687.4L551.7 1701.2" stroke="#141414" stroke-width="0.9"/>
<path d="M553.5 1690.6L553.5 1701.2" stroke="#383838" stroke-width="0.9"/>
<rect x="542.7" y="1687.9" width="9" height="2.7" stroke="#141414" stroke-width="0.8" fill="#fff"/>
<rect x="551.7" y="1681.6" width="7" height="3" stroke="#141414" stroke-width="0.95" fill="none"/>
<path d="M551.7 1679.6L551.7 1687.6" stroke="#141414" stroke-width="0.8"/>
<path d="M741.5 1687.4L741.5 1701.2" stroke="#141414" stroke-width="0.9"/>
<path d="M739.7 1690.6L739.7 1701.2" stroke="#383838" stroke-width="0.9"/>
<rect x="741.5" y="1687.9" width="9" height="2.7" stroke="#141414" stroke-width="0.8" fill="#fff"/>
<rect x="734.5" y="1681.6" width="7" height="3" stroke="#141414" stroke-width="0.95" fill="none"/>
<path d="M741.5 1679.6L741.5 1687.6" stroke="#141414" stroke-width="0.8"/>
<rect x="809.5" y="1320" width="106.2" height="164" stroke="#333" stroke-width="0.9" fill="none" stroke-dasharray="2 2.4"/>
<rect x="551.7" y="1520.5" width="189.8" height="164" stroke="#333" stroke-width="0.9" fill="none" stroke-dasharray="2 2.4"/>
<path d="M568.7 1207.2L524.4 1163L525.6 1161.8L570 1206" stroke="#141414" stroke-width="1.1" fill="#fff"/>
<path d="M524.44 1162.94A62.6 62.6 0 0 0 506.1 1207.2" stroke="#141414" stroke-width="1.15" fill="none" />
<path d="M494.4 1235L580 1235L580 1217.5" stroke="#383838" stroke-width="0.95" fill="none"/>
<path d="M494.4 1252.5L580 1252.5L580 1235" stroke="#383838" stroke-width="0.95" fill="none"/>
<path d="M494.4 1233L578 1233" stroke="#383838" stroke-width="0.9" stroke-dasharray="4.6 2.6"/>
<path d="M494.4 1250.5L578 1250.5" stroke="#383838" stroke-width="0.9" stroke-dasharray="4.6 2.6"/>
<path d="M578 1217.5L578 1250.5" stroke="#383838" stroke-width="0.9" stroke-dasharray="4.6 2.6"/>
<path d="M536.2 1207.5L536.2 1251.7" stroke="#141414" stroke-width="0.8"/>
<circle cx="536.2" cy="1251.7" r="2.9" stroke="#141414" stroke-width="0" fill="#141414"/>
<path d="M531.6 1209.95L536.2 1206.5L540.8 1209.95" stroke="#141414" stroke-width="1.9" fill="none" stroke-linejoin="round"/>
<text x="530.5" y="1272" font-size="11.34" fill="#141414" font-family="Liberation Sans" textLength="11.5" lengthAdjust="spacingAndGlyphs" stroke="none">UP</text>
<text x="630.5" y="1395.5" font-size="21.51" fill="#141414" font-family="Liberation Sans" textLength="82.5" lengthAdjust="spacingAndGlyphs" stroke="none">GARAGE</text>
<path d="M629.5 1400.7L714 1400.7" stroke="#141414" stroke-width="1.1"/>
<path d="M155 1500.5L397.5 1500.5" stroke="#141414" stroke-width="1.62"/>
<path d="M165 1490L397.5 1490" stroke="#141414" stroke-width="1.62"/>
<rect x="394.2" y="1489.2" width="3.4" height="11.6" stroke="#141414" stroke-width="1.9" fill="#fff"/>
<path d="M397.5 1500.5L485 1500.5" stroke="#141414" stroke-width="0.8"/>
<path d="M461.2 1490L485 1490" stroke="#141414" stroke-width="1.62"/>
<rect x="460" y="1488.5" width="3.5" height="13" fill="#141414" stroke="none"/>
<rect x="458" y="1427" width="2.6" height="62.5" stroke="#383838" stroke-width="0.95" fill="#fff"/>
<path d="M460 1427A62.5 62.5 0 0 0 397.5 1489.5" stroke="#141414" stroke-width="1.15" fill="none" />
<path d="M169.5 1500.5L169.5 1627.5" stroke="#383838" stroke-width="0.95"/>
<path d="M169.5 1627.5L357.5 1627.5" stroke="#383838" stroke-width="0.95"/>
<path d="M172.5 1500.5L172.5 1625" stroke="#383838" stroke-width="0.9" stroke-dasharray="4.6 2.6"/>
<path d="M172.5 1625L485 1625" stroke="#383838" stroke-width="0.9" stroke-dasharray="4.6 2.6"/>
<path d="M177 1500.5L177 1606" stroke="#141414" stroke-width="0.8"/>
<path d="M182.5 1500.5L182.5 1606" stroke="#141414" stroke-width="0.8"/>
<path d="M191.2 1614.5L357.5 1614.5" stroke="#141414" stroke-width="0.8"/>
<path d="M191.2 1620.7L357.5 1620.7" stroke="#141414" stroke-width="0.8"/>
<rect x="172" y="1606.2" width="19.3" height="19.3" stroke="#383838" stroke-width="0.9" fill="#fff"/>
<rect x="173.3" y="1607.5" width="16.7" height="16.7" stroke="#141414" stroke-width="0.9" fill="#fff"/>
<rect x="176.95" y="1611.15" width="9.4" height="9.4" stroke="#141414" stroke-width="0.9" fill="#fff"/>
<path d="M176.95 1611.15L186.35 1620.55" stroke="#141414" stroke-width="0.9"/>
<path d="M176.95 1620.55L186.35 1611.15" stroke="#141414" stroke-width="0.9"/>
<rect x="357.5" y="1606.2" width="19.3" height="19.3" stroke="#383838" stroke-width="0.9" fill="#fff"/>
<rect x="358.8" y="1607.5" width="16.7" height="16.7" stroke="#141414" stroke-width="0.9" fill="#fff"/>
<rect x="362.45" y="1611.15" width="9.4" height="9.4" stroke="#141414" stroke-width="0.9" fill="#fff"/>
<path d="M362.45 1611.15L371.85 1620.55" stroke="#141414" stroke-width="0.9"/>
<path d="M362.45 1620.55L371.85 1611.15" stroke="#141414" stroke-width="0.9"/>
<path d="M357.5 1627.5L357.5 1661.2L485 1661.2" stroke="#383838" stroke-width="0.95" fill="none"/>
<path d="M357.5 1627.5L485 1627.5" stroke="#383838" stroke-width="0.95"/>
<path d="M357.5 1643.7L485 1643.7" stroke="#383838" stroke-width="0.95"/>
<path d="M359.5 1642L485 1642" stroke="#383838" stroke-width="0.9" stroke-dasharray="4.6 2.6"/>
<path d="M359.5 1659.5L485 1659.5" stroke="#383838" stroke-width="0.9" stroke-dasharray="4.6 2.6"/>
<path d="M359.5 1627.5L359.5 1659.5" stroke="#383838" stroke-width="0.9" stroke-dasharray="4.6 2.6"/>
<path d="M364.5 1625.5L364.5 1647" stroke="#141414" stroke-width="0.8"/>
<path d="M369.5 1625.5L369.5 1647" stroke="#141414" stroke-width="0.8"/>
<rect x="362.5" y="1647.5" width="9.5" height="9.5" stroke="#141414" stroke-width="0.8" fill="#fff"/>
<path d="M422.5 1614L422.5 1660" stroke="#141414" stroke-width="0.8"/>
<circle cx="422.5" cy="1660" r="2.9" stroke="#141414" stroke-width="0" fill="#141414"/>
<path d="M417.9 1616.95L422.5 1613.5L427.1 1616.95" stroke="#141414" stroke-width="1.9" fill="none" stroke-linejoin="round"/>
<path d="M422.5 1660L422.5 1667" stroke="#141414" stroke-width="0.8"/>
<text x="417" y="1680" font-size="11.34" fill="#141414" font-family="Liberation Sans" textLength="11.3" lengthAdjust="spacingAndGlyphs" stroke="none">UP</text>
<rect x="124" y="399.3" width="73.2" height="357.7" rx="20" stroke="#000" stroke-width="3.4" fill="none" stroke-dasharray="3.3 2.95"/>
<rect x="623.7" y="1030.8" width="281.3" height="200.4" rx="20" stroke="#000" stroke-width="3.4" fill="none" stroke-dasharray="3.3 2.95"/>
<rect x="134.2" y="1094.2" width="868.8" height="627.3" rx="20" stroke="#000" stroke-width="3.4" fill="none" stroke-dasharray="3.3 2.95"/>
<path d="M1003 1312A20 20 0 0 0 983 1292H484.2A20 20 0 0 0 464.2 1312V1701.5A20 20 0 0 0 484.2 1721.5" stroke="#000" stroke-width="3.4" fill="none" stroke-dasharray="3.3 2.95"/>
<circle cx="97" cy="373.2" r="21" stroke="#141414" stroke-width="0.8" fill="#fff"/>
<path d="M113 389.5L128 405" stroke="#141414" stroke-width="0.8"/>
<text x="82.5" y="378.5" font-size="15.7" fill="#141414" font-family="Liberation Sans" textLength="29.5" lengthAdjust="spacingAndGlyphs" stroke="none">OPT.</text>
<circle cx="432.5" cy="1061.7" r="21" stroke="#141414" stroke-width="0.8" fill="#fff"/>
<path d="M448.2 1077L465.5 1093.7" stroke="#141414" stroke-width="0.8"/>
<text x="418" y="1067" font-size="15.7" fill="#141414" font-family="Liberation Sans" textLength="29.5" lengthAdjust="spacingAndGlyphs" stroke="none">OPT.</text>
<circle cx="437" cy="1265.7" r="21" stroke="#141414" stroke-width="0.8" fill="#fff"/>
<path d="M453 1281.7L468.7 1297.5" stroke="#141414" stroke-width="0.8"/>
<text x="422.5" y="1271" font-size="15.7" fill="#141414" font-family="Liberation Sans" textLength="29.5" lengthAdjust="spacingAndGlyphs" stroke="none">OPT.</text>
<circle cx="931.7" cy="1004.2" r="21" stroke="#141414" stroke-width="0.8" fill="#fff"/>
<path d="M915.7 1020L900 1035.7" stroke="#141414" stroke-width="0.8"/>
<text x="917.2" y="1009.5" font-size="15.7" fill="#141414" font-family="Liberation Sans" textLength="29.5" lengthAdjust="spacingAndGlyphs" stroke="none">OPT.</text>
</g>
<g id="f2">
<path d="M1216 185.7L1981 185.7" stroke="#2e2e2e" stroke-width="1"/>
<path d="M1237 165L1237 409.5" stroke="#2e2e2e" stroke-width="1"/>
<path d="M1960 165L1960 410" stroke="#2e2e2e" stroke-width="1"/>
<path d="M1232.5 190.7L1241.8 180.7" stroke="#141414" stroke-width="1.1"/>
<path d="M1955.3 190.7L1964.7 180.7" stroke="#141414" stroke-width="1.1"/>
<path d="M1133.7 253.7L1133.7 1238.5" stroke="#2e2e2e" stroke-width="1"/>
<path d="M1112.5 274.3L1260 274.3" stroke="#2e2e2e" stroke-width="1"/>
<path d="M1112.5 420L1227 420" stroke="#2e2e2e" stroke-width="1"/>
<path d="M1112.5 1216.7L1226.5 1216.7" stroke="#2e2e2e" stroke-width="1"/>
<path d="M1129 269.3L1138.4 279.3" stroke="#141414" stroke-width="1.1"/>
<path d="M1129 415L1138.4 425" stroke="#141414" stroke-width="1.1"/>
<path d="M1129 1211.7L1138.4 1221.7" stroke="#141414" stroke-width="1.1"/>
<path d="M1237 1196.5L1210 1196.5L1210 1527.5L1233.7 1527.5L1233.7 1646.2L1540 1646.2L1540 1728.5L1904 1728.5L1904 1527.5L2050 1527.5L2050 1180L1960 1180" stroke="#555" stroke-width="0.85" fill="none"/>
<path d="M1519.3 1217.2L1210 1527.5" stroke="#222" stroke-width="0.95"/>
<path d="M1740.4 1217.2L2050 1527.5" stroke="#222" stroke-width="0.95"/>
<path d="M1521.2 1358.7L1708.7 1358.7" stroke="#222" stroke-width="0.95"/>
<path d="M1521.2 1358.7L1233.7 1527.5" stroke="#222" stroke-width="0.95"/>
<path d="M1521.2 1358.7L1233.7 1646.2" stroke="#222" stroke-width="0.95"/>
<path d="M1721.7 1345.7L1540 1646.2" stroke="#222" stroke-width="0.95"/>
<path d="M1721.7 1345.7L1721.7 1728.5" stroke="#555" stroke-width="0.85"/>
<path d="M1721.7 1345.7L1904 1527.5" stroke="#222" stroke-width="0.95"/>
<path d="M1237.5 1217.2L1237.5 1500.5L1567.2 1500.5L1567.2 1701L1876.3 1701L1876.3 1500.5L2022.5 1500.5L2022.5 1207.5L1960 1207.5" stroke="#666" stroke-width="0.95" fill="none" stroke-dasharray="4.6 2.6"/>
<path d="M1247.3 1217.2L1247.3 1490L1576.7 1490L1576.7 1690.8L1866.7 1690.8L1866.7 1490L2012.8 1490L2012.8 1217.5L1960 1217.5" stroke="#666" stroke-width="0.95" fill="none" stroke-dasharray="4.6 2.6"/>
<path d="M1255 1500.5L1255 1625L1567.2 1625" stroke="#666" stroke-width="0.95" fill="none" stroke-dasharray="4.6 2.6"/>
<rect x="1255" y="1607.5" width="17.5" height="17.5" stroke="#666" stroke-width="0.95" fill="none" stroke-dasharray="4.6 2.6"/>
<rect x="1440.7" y="1607.5" width="17.5" height="17.5" stroke="#666" stroke-width="0.95" fill="none" stroke-dasharray="4.6 2.6"/>
<path d="M1263.2 420L1263.2 267L1934.2 267L1934.2 420" stroke="#383838" stroke-width="0.95" fill="none"/>
<path d="M1271.2 420L1271.2 274.3L1926.3 274.3L1926.3 420" stroke="#383838" stroke-width="0.9" fill="none" stroke-dasharray="4.6 2.6"/>
<path d="M1289 278.7L1493.3 278.7" stroke="#141414" stroke-width="0.8"/>
<path d="M1289 285L1493.3 285" stroke="#141414" stroke-width="0.8"/>
<path d="M1513 278.7L1684.3 278.7" stroke="#141414" stroke-width="0.8"/>
<path d="M1513 285L1684.3 285" stroke="#141414" stroke-width="0.8"/>
<path d="M1704.3 278.7L1908 278.7" stroke="#141414" stroke-width="0.8"/>
<path d="M1704.3 285L1908 285" stroke="#141414" stroke-width="0.8"/>
<path d="M1274.3 293.3L1274.3 420" stroke="#141414" stroke-width="0.8"/>
<path d="M1280 293.3L1280 420" stroke="#141414" stroke-width="0.8"/>
<path d="M1917.3 293.3L1917.3 420" stroke="#141414" stroke-width="0.8"/>
<path d="M1923 293.3L1923 420" stroke="#141414" stroke-width="0.8"/>
<rect x="1269.3" y="273.5" width="19.8" height="19.8" stroke="#383838" stroke-width="0.9" fill="#fff"/>
<rect x="1270.6" y="274.8" width="17.2" height="17.2" stroke="#141414" stroke-width="0.9" fill="#fff"/>
<rect x="1274.5" y="278.7" width="9.4" height="9.4" stroke="#141414" stroke-width="0.9" fill="#fff"/>
<path d="M1274.5 278.7L1283.9 288.1" stroke="#141414" stroke-width="0.9"/>
<path d="M1274.5 288.1L1283.9 278.7" stroke="#141414" stroke-width="0.9"/>
<rect x="1493.3" y="273.5" width="19.8" height="19.8" stroke="#383838" stroke-width="0.9" fill="#fff"/>
<rect x="1494.6" y="274.8" width="17.2" height="17.2" stroke="#141414" stroke-width="0.9" fill="#fff"/>
<rect x="1498.5" y="278.7" width="9.4" height="9.4" stroke="#141414" stroke-width="0.9" fill="#fff"/>
<path d="M1498.5 278.7L1507.9 288.1" stroke="#141414" stroke-width="0.9"/>
<path d="M1498.5 288.1L1507.9 278.7" stroke="#141414" stroke-width="0.9"/>
<rect x="1684.3" y="273.5" width="19.8" height="19.8" stroke="#383838" stroke-width="0.9" fill="#fff"/>
<rect x="1685.6" y="274.8" width="17.2" height="17.2" stroke="#141414" stroke-width="0.9" fill="#fff"/>
<rect x="1689.5" y="278.7" width="9.4" height="9.4" stroke="#141414" stroke-width="0.9" fill="#fff"/>
<path d="M1689.5 278.7L1698.9 288.1" stroke="#141414" stroke-width="0.9"/>
<path d="M1689.5 288.1L1698.9 278.7" stroke="#141414" stroke-width="0.9"/>
<rect x="1908" y="273.5" width="19.8" height="19.8" stroke="#383838" stroke-width="0.9" fill="#fff"/>
<rect x="1909.3" y="274.8" width="17.2" height="17.2" stroke="#141414" stroke-width="0.9" fill="#fff"/>
<rect x="1913.2" y="278.7" width="9.4" height="9.4" stroke="#141414" stroke-width="0.9" fill="#fff"/>
<path d="M1913.2 278.7L1922.6 288.1" stroke="#141414" stroke-width="0.9"/>
<path d="M1913.2 288.1L1922.6 278.7" stroke="#141414" stroke-width="0.9"/>
<path d="M1237 420L1566.3 420" stroke="#141414" stroke-width="1.62"/>
<path d="M1630.7 420L1960 420" stroke="#141414" stroke-width="1.62"/>
<path d="M1247 430.5L1566.3 430.5" stroke="#141414" stroke-width="1.62"/>
<path d="M1635 430.5L1655 430.5" stroke="#141414" stroke-width="1.62"/>
<path d="M1661.5 430.5L1950 430.5" stroke="#141414" stroke-width="1.62"/>
<rect x="1563.3" y="419.4" width="3.8" height="12.1" fill="#141414" stroke="none"/>
<rect x="1630" y="419.4" width="5.5" height="4.9" fill="#141414" stroke="none"/>
<path d="M1635 424L1635 430.5" stroke="#141414" stroke-width="1.62"/>
<rect x="1627.2" y="430.5" width="3.1" height="62.8" stroke="#141414" stroke-width="1.1" fill="#fff"/>
<path d="M1566.8 430.5A63.5 63.5 0 0 0 1630.3 494" stroke="#141414" stroke-width="1.15" fill="none" />
<path d="M1237 420L1237 1217.2" stroke="#141414" stroke-width="1.62"/>
<path d="M1960 420L1960 1217.2" stroke="#141414" stroke-width="1.62"/>
<path d="M1237 1217.2L1960 1217.2" stroke="#141414" stroke-width="1.62"/>
<path d="M1247 430.5L1247 908.4" stroke="#141414" stroke-width="1.62"/>
<path d="M1247 916L1247 1207.2" stroke="#141414" stroke-width="1.62"/>
<path d="M1950 430.5L1950 723.9" stroke="#141414" stroke-width="1.62"/>
<path d="M1950 730.9L1950 908.4" stroke="#141414" stroke-width="1.62"/>
<path d="M1950 916L1950 1207.2" stroke="#141414" stroke-width="1.62"/>
<rect x="1324.4" y="418.4" width="131.1" height="13.5" stroke="#383838" stroke-width="0.95" fill="#fff"/>
<path d="M1324.4 422L1455.5 422" stroke="#383838" stroke-width="0.95"/>
<path d="M1326.9 427.67L1386.5 427.67" stroke="#141414" stroke-width="1.5"/>
<path d="M1393.5 427.67L1453 427.67" stroke="#141414" stroke-width="1.5"/>
<rect x="1387.4" y="420" width="5.2" height="11.3" stroke="#141414" stroke-width="0.9" fill="#fff" rx="0.8"/>
<rect x="1741.6" y="418.4" width="131" height="13.5" stroke="#383838" stroke-width="0.95" fill="#fff"/>
<path d="M1741.6 422L1872.6 422" stroke="#383838" stroke-width="0.95"/>
<path d="M1744.1 427.67L1803.5 427.67" stroke="#141414" stroke-width="1.5"/>
<path d="M1810.5 427.67L1870.1 427.67" stroke="#141414" stroke-width="1.5"/>
<rect x="1804.4" y="420" width="5.2" height="11.3" stroke="#141414" stroke-width="0.9" fill="#fff" rx="0.8"/>
<rect x="1235.4" y="455" width="13" height="62" stroke="#383838" stroke-width="0.95" fill="#fff"/>
<path d="M1239 455L1239 517" stroke="#383838" stroke-width="0.95"/>
<path d="M1244.3 457.5L1244.3 514.5" stroke="#141414" stroke-width="1.5"/>
<rect x="1235.4" y="650.5" width="13" height="61.5" stroke="#383838" stroke-width="0.95" fill="#fff"/>
<path d="M1239 650.5L1239 712" stroke="#383838" stroke-width="0.95"/>
<path d="M1244.3 653L1244.3 709.5" stroke="#141414" stroke-width="1.5"/>
<rect x="1235.4" y="761.2" width="13" height="129.5" stroke="#383838" stroke-width="0.95" fill="#fff"/>
<path d="M1239 761.2L1239 890.7" stroke="#383838" stroke-width="0.95"/>
<path d="M1244.3 763.7L1244.3 822.7" stroke="#141414" stroke-width="1.5"/>
<path d="M1244.3 829.7L1244.3 888.2" stroke="#141414" stroke-width="1.5"/>
<rect x="1237" y="823.6" width="10.8" height="5.2" stroke="#141414" stroke-width="0.9" fill="#fff" rx="0.8"/>
<rect x="1235.4" y="936.5" width="13" height="62.5" stroke="#383838" stroke-width="0.95" fill="#fff"/>
<path d="M1239 936.5L1239 999" stroke="#383838" stroke-width="0.95"/>
<path d="M1244.3 939L1244.3 996.5" stroke="#141414" stroke-width="1.5"/>
<rect x="1235.4" y="1123.3" width="13" height="62.7" stroke="#383838" stroke-width="0.95" fill="#fff"/>
<path d="M1239 1123.3L1239 1186" stroke="#383838" stroke-width="0.95"/>
<path d="M1244.3 1125.8L1244.3 1183.5" stroke="#141414" stroke-width="1.5"/>
<rect x="1948.6" y="445" width="13" height="62" stroke="#383838" stroke-width="0.95" fill="#fff"/>
<path d="M1958 445L1958 507" stroke="#383838" stroke-width="0.95"/>
<path d="M1952.7 447.5L1952.7 504.5" stroke="#141414" stroke-width="1.5"/>
<rect x="1948.6" y="647" width="13" height="62" stroke="#383838" stroke-width="0.95" fill="#fff"/>
<path d="M1958 647L1958 709" stroke="#383838" stroke-width="0.95"/>
<path d="M1952.7 649.5L1952.7 706.5" stroke="#141414" stroke-width="1.5"/>
<rect x="1948.6" y="804.4" width="13" height="40.9" stroke="#383838" stroke-width="0.95" fill="#fff"/>
<path d="M1958 804.4L1958 845.3" stroke="#383838" stroke-width="0.95"/>
<path d="M1952.7 806.9L1952.7 842.8" stroke="#141414" stroke-width="1.5"/>
<rect x="1948.6" y="936.5" width="13" height="62.5" stroke="#383838" stroke-width="0.95" fill="#fff"/>
<path d="M1958 936.5L1958 999" stroke="#383838" stroke-width="0.95"/>
<path d="M1952.7 939L1952.7 996.5" stroke="#141414" stroke-width="1.5"/>
<rect x="1948.6" y="1123.3" width="13" height="62.7" stroke="#383838" stroke-width="0.95" fill="#fff"/>
<path d="M1958 1123.3L1958 1186" stroke="#383838" stroke-width="0.95"/>
<path d="M1952.7 1125.8L1952.7 1183.5" stroke="#141414" stroke-width="1.5"/>
<rect x="1571" y="1205.8" width="62.3" height="13" stroke="#383838" stroke-width="0.95" fill="#fff"/>
<path d="M1571 1215.2L1633.3 1215.2" stroke="#383838" stroke-width="0.95"/>
<path d="M1573.5 1209.9L1630.8 1209.9" stroke="#141414" stroke-width="1.5"/>
<path d="M1654.8 430.5L1654.8 762.8" stroke="#141414" stroke-width="1.62"/>
<path d="M1661.5 430.5L1661.5 722.8" stroke="#141414" stroke-width="1.62"/>
<path d="M1661.5 730.9L1661.5 762.8" stroke="#141414" stroke-width="1.62"/>
<path d="M1654.8 762.8L1661.5 762.8" stroke="#141414" stroke-width="1.62"/>
<path d="M1654.8 762.8L1654.8 826" stroke="#383838" stroke-width="0.9" stroke-dasharray="4.6 2.6"/>
<path d="M1661.5 762.8L1661.5 826" stroke="#383838" stroke-width="0.9" stroke-dasharray="4.6 2.6"/>
<path d="M1654.8 826L1661.5 826" stroke="#141414" stroke-width="1.62"/>
<path d="M1654.8 826L1654.8 908.4" stroke="#141414" stroke-width="1.62"/>
<path d="M1661.5 826L1661.5 859.6" stroke="#141414" stroke-width="1.62"/>
<path d="M1661.5 866.7L1661.5 908.4" stroke="#141414" stroke-width="1.62"/>
<path d="M1661.5 723.9L1672.8 723.9" stroke="#141414" stroke-width="1.62"/>
<path d="M1661.5 730.9L1672.8 730.9" stroke="#141414" stroke-width="1.62"/>
<path d="M1672.8 723.9L1672.8 730.9" stroke="#141414" stroke-width="1.6"/>
<path d="M1729.3 723.9L1778.6 723.9" stroke="#141414" stroke-width="1.62"/>
<path d="M1729.3 730.9L1778.6 730.9" stroke="#141414" stroke-width="1.62"/>
<path d="M1729.3 723.9L1729.3 730.9" stroke="#141414" stroke-width="1.6"/>
<path d="M1778.6 723.9L1778.6 730.9" stroke="#141414" stroke-width="1.6"/>
<path d="M1827.5 723.9L1853.5 723.9" stroke="#141414" stroke-width="1.62"/>
<path d="M1827.5 730.9L1853.5 730.9" stroke="#141414" stroke-width="1.62"/>
<path d="M1827.5 723.9L1827.5 730.9" stroke="#141414" stroke-width="1.6"/>
<path d="M1853.5 723.9L1853.5 730.9" stroke="#141414" stroke-width="1.6"/>
<path d="M1903 723.9L1950 723.9" stroke="#141414" stroke-width="1.62"/>
<path d="M1903 730.9L1950 730.9" stroke="#141414" stroke-width="1.62"/>
<path d="M1903 723.9L1903 730.9" stroke="#141414" stroke-width="1.6"/>
<rect x="1673.7" y="667.5" width="2.8" height="56.4" stroke="#141414" stroke-width="1.1" fill="#fff"/>
<path d="M1673.7 667.7A56.2 56.2 0 0 1 1729.9 723.9" stroke="#141414" stroke-width="1.15" fill="none" />
<rect x="1825" y="674.2" width="2.6" height="49.7" stroke="#141414" stroke-width="1.1" fill="#fff"/>
<path d="M1827.5 674.4A49.5 49.5 0 0 0 1778 723.9" stroke="#141414" stroke-width="1.15" fill="none" />
<rect x="1851.8" y="730.9" width="2.6" height="48.6" stroke="#141414" stroke-width="1.1" fill="#fff"/>
<path d="M1853.5 779.9A49 49 0 0 0 1902.5 730.9" stroke="#141414" stroke-width="1.15" fill="none" />
<path d="M1740.3 730.9L1740.3 908.4" stroke="#141414" stroke-width="1.62"/>
<path d="M1747.4 730.9L1747.4 859.3" stroke="#141414" stroke-width="1.62"/>
<path d="M1747.4 866.3L1747.4 908.4" stroke="#141414" stroke-width="1.62"/>
<path d="M1837.2 730.9L1837.2 859.3" stroke="#141414" stroke-width="1.62"/>
<path d="M1837.2 866.3L1837.2 908.4" stroke="#141414" stroke-width="1.62"/>
<path d="M1844.2 730.9L1844.2 908.4" stroke="#141414" stroke-width="1.62"/>
<path d="M1747.4 859.3L1837.2 859.3" stroke="#141414" stroke-width="1.62"/>
<path d="M1747.4 866.3L1837.2 866.3" stroke="#141414" stroke-width="1.62"/>
<path d="M1768.8 730.9L1768.8 838.2L1837.2 838.2" stroke="#141414" stroke-width="0.9" fill="none"/>
<path d="M1765.3 730.9L1765.3 841.4L1837.2 841.4" stroke="#141414" stroke-width="0.95" fill="none" stroke-dasharray="4.6 2.6"/>
<path d="M1747.4 908.4L1837.2 866.3" stroke="#141414" stroke-width="0.95"/>
<path d="M1747.4 866.3L1837.2 908.4" stroke="#141414" stroke-width="0.95"/>
<text x="1785" y="877.2" font-size="11.19" fill="#141414" font-family="Liberation Sans" textLength="23.4" lengthAdjust="spacingAndGlyphs" stroke="none">HVAC</text>
<path d="M1661.5 859.6L1675.8 859.6" stroke="#141414" stroke-width="1.62"/>
<path d="M1661.5 866.7L1675.8 866.7" stroke="#141414" stroke-width="1.62"/>
<path d="M1675.8 859.6L1675.8 866.7" stroke="#141414" stroke-width="1.6"/>
<path d="M1726 859.6L1740.3 859.6" stroke="#141414" stroke-width="1.62"/>
<path d="M1726 866.7L1740.3 866.7" stroke="#141414" stroke-width="1.62"/>
<path d="M1726 859.6L1726 866.7" stroke="#141414" stroke-width="1.6"/>
<rect x="1722.8" y="809.8" width="2.6" height="49.8" stroke="#141414" stroke-width="1.1" fill="#fff"/>
<path d="M1725.4 810.3A49.3 49.3 0 0 0 1676.1 859.6" stroke="#141414" stroke-width="1.15" fill="none" />
<path d="M1661.5 877.2L1740.3 877.2" stroke="#141414" stroke-width="0.8"/>
<text x="1689" y="896.5" font-size="11.19" fill="#141414" font-family="Liberation Sans" textLength="24.2" lengthAdjust="spacingAndGlyphs" stroke="none">LINEN</text>
<g stroke="#6a6a6a" stroke-width="0.8">
<path d="M1852.6 730.9V856.7"/>
<path d="M1872.8 730.9V856.7"/>
<path d="M1893.9 730.9V856.7"/>
<path d="M1914.9 730.9V856.7"/>
<path d="M1935.6 730.9V856.7"/>
<path d="M1844.2 740.4H1950"/>
<path d="M1844.2 761.4H1950"/>
<path d="M1844.2 782.1H1950"/>
<path d="M1844.2 803.2H1950"/>
<path d="M1844.2 824.2H1950"/>
<path d="M1844.2 845.3H1950"/>
</g>
<path d="M1844.2 856.7L1950 856.7" stroke="#141414" stroke-width="0.8"/>
<path d="M1851 859.6H1928Q1946 862 1946 882.4Q1946 903 1928 905.3H1851Q1847.7 905.3 1847.7 902V863Q1847.7 859.6 1851 859.6Z" stroke="#333" stroke-width="0.8" fill="#fff" />
<circle cx="1926.8" cy="882.1" r="6.5" stroke="#141414" stroke-width="0.8" fill="#fff"/>
<circle cx="1926.8" cy="882.1" r="1" stroke="#141414" stroke-width="0" fill="#141414"/>
<path d="M1926.8 882.1L1950 882.1" stroke="#141414" stroke-width="0.9"/>
<path d="M1949 878L1949 886" stroke="#141414" stroke-width="1.6"/>
<text x="1856.1" y="885.4" font-size="11.34" fill="#141414" font-family="Liberation Sans" textLength="62.3" lengthAdjust="spacingAndGlyphs" stroke="none">TUB/ SHOWER</text>
<rect x="1909.6" y="730.9" width="40.4" height="63.5" stroke="#383838" stroke-width="0.95" fill="#fff" stroke-dasharray="4.6 2.6"/>
<ellipse cx="1930.2" cy="761.4" rx="15" ry="16.9" stroke="#333" stroke-width="0.9" fill="#fff"/>
<ellipse cx="1930.2" cy="761.9" rx="12.5" ry="14.3" stroke="#383838" stroke-width="0.95" fill="none"/>
<path d="M1925 739H1935M1930 734V739" stroke="#141414" stroke-width="0.8" fill="none" />
<path d="M1916 799H1926M1916 796V799" stroke="#141414" stroke-width="0.8" fill="none" />
<rect x="1933.3" y="806.3" width="14.4" height="36.9" stroke="#383838" stroke-width="0.95" fill="#fff" rx="2"/>
<ellipse cx="1914.6" cy="824.6" rx="15.3" ry="13.6" stroke="#444" stroke-width="0.9" fill="#fff"/>
<ellipse cx="1913.6" cy="824.6" rx="10.5" ry="8.7" stroke="#444" stroke-width="0.9" fill="none"/>
<text x="0" y="0" font-size="20.35" fill="#141414" font-family="Liberation Sans" textLength="66.3" lengthAdjust="spacingAndGlyphs" transform="translate(1890 848.8) rotate(-90)" stroke="none">BATH #2</text>
<path d="M1893.9 779.5L1893.9 849.6" stroke="#141414" stroke-width="1.1"/>
<text x="1771.4" y="796.1" font-size="20.35" fill="#141414" font-family="Liberation Sans" textLength="63.6" lengthAdjust="spacingAndGlyphs" stroke="none">WIC #2</text>
<path d="M1770.4 800.5L1836 800.5" stroke="#141414" stroke-width="1.1"/>
<path d="M1247 737L1467.5 737" stroke="#141414" stroke-width="0.8"/>
<path d="M1247 740.5L1467.5 740.5" stroke="#141414" stroke-width="0.8"/>
<path d="M1247 745L1465 745" stroke="#383838" stroke-width="0.95"/>
<path d="M1247 743L1465 743" stroke="#383838" stroke-width="0.9" stroke-dasharray="4.6 2.6"/>
<path d="M1469.3 742L1469.3 823.5" stroke="#141414" stroke-width="0.8"/>
<path d="M1473 742L1473 823.5" stroke="#141414" stroke-width="0.8"/>
<path d="M1465 745L1465 823" stroke="#383838" stroke-width="0.95"/>
<path d="M1466.7 745L1466.7 823" stroke="#383838" stroke-width="0.9" stroke-dasharray="4.6 2.6"/>
<rect x="1354.5" y="735.5" width="6.7" height="6.7" stroke="#141414" stroke-width="0.8" fill="#fff"/>
<rect x="1467.5" y="735.5" width="6.7" height="6.7" stroke="#141414" stroke-width="0.8" fill="#fff"/>
<rect x="1467.5" y="823" width="6.7" height="6.6" stroke="#141414" stroke-width="0.8" fill="#fff"/>
<path d="M1329.5 745L1329.5 823" stroke="#383838" stroke-width="0.95"/>
<path d="M1327.5 745L1327.5 823" stroke="#383838" stroke-width="0.9" stroke-dasharray="4.6 2.6"/>
<path d="M1346.2 745L1346.2 823" stroke="#383838" stroke-width="0.95"/>
<path d="M1344.2 745L1344.2 823" stroke="#383838" stroke-width="0.9" stroke-dasharray="4.6 2.6"/>
<path d="M1363.7 745L1363.7 823" stroke="#383838" stroke-width="0.95"/>
<path d="M1361.7 745L1361.7 823" stroke="#383838" stroke-width="0.9" stroke-dasharray="4.6 2.6"/>
<path d="M1381.2 745L1381.2 823" stroke="#383838" stroke-width="0.95"/>
<path d="M1379.2 745L1379.2 823" stroke="#383838" stroke-width="0.9" stroke-dasharray="4.6 2.6"/>
<path d="M1398.2 745L1398.2 823" stroke="#383838" stroke-width="0.95"/>
<path d="M1396.2 745L1396.2 823" stroke="#383838" stroke-width="0.9" stroke-dasharray="4.6 2.6"/>
<path d="M1415.7 745L1415.7 823" stroke="#383838" stroke-width="0.95"/>
<path d="M1413.7 745L1413.7 823" stroke="#383838" stroke-width="0.9" stroke-dasharray="4.6 2.6"/>
<path d="M1433.2 745L1433.2 823" stroke="#383838" stroke-width="0.95"/>
<path d="M1431.2 745L1431.2 823" stroke="#383838" stroke-width="0.9" stroke-dasharray="4.6 2.6"/>
<path d="M1450 745L1450 823" stroke="#383838" stroke-width="0.95"/>
<path d="M1448 745L1448 823" stroke="#383838" stroke-width="0.9" stroke-dasharray="4.6 2.6"/>
<path d="M1342.5 835L1342.5 908.4" stroke="#383838" stroke-width="0.95"/>
<path d="M1344.5 835L1344.5 908.4" stroke="#383838" stroke-width="0.9" stroke-dasharray="4.6 2.6"/>
<path d="M1360 835L1360 908.4" stroke="#383838" stroke-width="0.95"/>
<path d="M1362 835L1362 908.4" stroke="#383838" stroke-width="0.9" stroke-dasharray="4.6 2.6"/>
<path d="M1377.5 835L1377.5 908.4" stroke="#383838" stroke-width="0.95"/>
<path d="M1379.5 835L1379.5 908.4" stroke="#383838" stroke-width="0.9" stroke-dasharray="4.6 2.6"/>
<path d="M1395 835L1395 908.4" stroke="#383838" stroke-width="0.95"/>
<path d="M1397 835L1397 908.4" stroke="#383838" stroke-width="0.9" stroke-dasharray="4.6 2.6"/>
<path d="M1412.5 835L1412.5 908.4" stroke="#383838" stroke-width="0.95"/>
<path d="M1414.5 835L1414.5 908.4" stroke="#383838" stroke-width="0.9" stroke-dasharray="4.6 2.6"/>
<path d="M1429.5 835L1429.5 908.4" stroke="#383838" stroke-width="0.95"/>
<path d="M1431.5 835L1431.5 908.4" stroke="#383838" stroke-width="0.9" stroke-dasharray="4.6 2.6"/>
<path d="M1447 835L1447 908.4" stroke="#383838" stroke-width="0.95"/>
<path d="M1449 835L1449 908.4" stroke="#383838" stroke-width="0.9" stroke-dasharray="4.6 2.6"/>
<path d="M1325 835L1325 908.4" stroke="#383838" stroke-width="0.9" stroke-dasharray="4.6 2.6"/>
<path d="M1465 835L1465 908.4" stroke="#383838" stroke-width="0.9" stroke-dasharray="4.6 2.6"/>
<rect x="1326.2" y="823" width="141.3" height="12" stroke="#383838" stroke-width="0.95" fill="#fff"/>
<path d="M1332.5 824.6L1467.5 824.6" stroke="#141414" stroke-width="0.8"/>
<path d="M1332.5 828L1467.5 828" stroke="#141414" stroke-width="0.8"/>
<path d="M1332.5 826.3L1467.5 826.3" stroke="#383838" stroke-width="0.9" stroke-dasharray="10 3"/>
<rect x="1326.7" y="823.7" width="5.8" height="5.8" stroke="#141414" stroke-width="0.8" fill="#fff"/>
<path d="M1328.5 829.5V831Q1328.5 834.6 1332 834.6H1469Q1472.3 834.6 1472.3 831V829.6M1329 831.5H1472" stroke="#141414" stroke-width="0.8" fill="none" />
<path d="M1465.7 869.2L1286.7 869.2L1286.7 783L1403 783" stroke="#141414" stroke-width="0.8" fill="none"/>
<circle cx="1465.7" cy="869.2" r="2.9" stroke="#141414" stroke-width="0" fill="#141414"/>
<path d="M1465.7 869.2L1473.5 869.2" stroke="#141414" stroke-width="0.8"/>
<path d="M1400.25 778.4L1403.7 783L1400.25 787.6" stroke="#141414" stroke-width="1.9" fill="none" stroke-linejoin="round"/>
<text x="1476.7" y="873.2" font-size="11.34" fill="#141414" font-family="Liberation Sans" textLength="11.5" lengthAdjust="spacingAndGlyphs" stroke="none">DN</text>
<text x="1269.5" y="776.5" font-size="11.63" fill="#141414" font-family="Liberation Sans" textLength="36.7" lengthAdjust="spacingAndGlyphs" stroke="none">LANDING</text>
<path d="M1247 908.4L1569.7 908.4" stroke="#141414" stroke-width="1.62"/>
<path d="M1247 916L1542.9 916" stroke="#141414" stroke-width="1.62"/>
<path d="M1569.7 908.4L1569.7 916" stroke="#141414" stroke-width="1.62"/>
<path d="M1569.7 908.4L1633.7 908.4" stroke="#383838" stroke-width="0.9" stroke-dasharray="4.6 2.6"/>
<path d="M1569.7 916L1633.7 916" stroke="#383838" stroke-width="0.9" stroke-dasharray="4.6 2.6"/>
<path d="M1633.7 908.4L1950 908.4" stroke="#141414" stroke-width="1.62"/>
<path d="M1633.7 908.4L1633.7 916" stroke="#141414" stroke-width="1.62"/>
<path d="M1633.7 916L1653.5 916" stroke="#141414" stroke-width="1.62"/>
<path d="M1662.3 916L1950 916" stroke="#141414" stroke-width="1.62"/>
<path d="M1542.9 916L1542.9 925.1" stroke="#141414" stroke-width="1.62"/>
<path d="M1550.4 916L1550.4 925.1" stroke="#141414" stroke-width="1.62"/>
<path d="M1542.9 925.1L1550.4 925.1" stroke="#141414" stroke-width="1.6"/>
<path d="M1550.4 916L1569.7 916" stroke="#141414" stroke-width="1.62"/>
<path d="M1653.5 916L1653.5 925.1" stroke="#141414" stroke-width="1.62"/>
<path d="M1662.3 916L1662.3 925.1" stroke="#141414" stroke-width="1.62"/>
<path d="M1653.5 925.1L1662.3 925.1" stroke="#141414" stroke-width="1.6"/>
<rect x="1486.4" y="925.4" width="56.5" height="2.6" stroke="#141414" stroke-width="1.1" fill="#fff"/>
<path d="M1486.7 925.4A56.2 56.2 0 0 0 1542.9 981.6" stroke="#141414" stroke-width="1.15" fill="none" />
<rect x="1662.3" y="925.4" width="55.7" height="2.6" stroke="#141414" stroke-width="1.1" fill="#fff"/>
<path d="M1718.5 925.4A56.2 56.2 0 0 1 1662.3 981.6" stroke="#141414" stroke-width="1.15" fill="none" />
<path d="M1542.7 981.2L1542.7 1207.2" stroke="#141414" stroke-width="1.62"/>
<path d="M1549 981.2L1549 991.4" stroke="#141414" stroke-width="1.62"/>
<path d="M1549 997.4L1549 1207.2" stroke="#141414" stroke-width="1.62"/>
<path d="M1541.5 981.2L1550.5 981.2" stroke="#141414" stroke-width="1.8"/>
<path d="M1654.6 981.2L1654.6 991.4" stroke="#141414" stroke-width="1.62"/>
<path d="M1654.6 997.4L1654.6 1207.2" stroke="#141414" stroke-width="1.62"/>
<path d="M1661.4 981.2L1661.4 1207.2" stroke="#141414" stroke-width="1.62"/>
<path d="M1653.5 981.2L1662.5 981.2" stroke="#141414" stroke-width="1.8"/>
<path d="M1549 991.4L1557.9 991.4" stroke="#141414" stroke-width="1.62"/>
<path d="M1549 997.4L1557.9 997.4" stroke="#141414" stroke-width="1.62"/>
<path d="M1557.9 991.4L1557.9 997.4" stroke="#141414" stroke-width="1.6"/>
<path d="M1607.4 991.4L1654.6 991.4" stroke="#141414" stroke-width="1.62"/>
<path d="M1607.4 997.4L1654.6 997.4" stroke="#141414" stroke-width="1.62"/>
<path d="M1607.4 991.4L1607.4 997.4" stroke="#141414" stroke-width="1.6"/>
<g stroke="#6a6a6a" stroke-width="0.8">
<path d="M1559.6 997.4V1154.6"/>
<path d="M1580.7 997.4V1154.6"/>
<path d="M1601.8 997.4V1154.6"/>
<path d="M1622.8 1103.7V1154.6"/>
<path d="M1643.9 1103.7V1154.6"/>
<path d="M1549 1011H1614.4"/>
<path d="M1549 1032.1H1614.4"/>
<path d="M1549 1053.2H1614.4"/>
<path d="M1549 1073.9H1614.4"/>
<path d="M1549 1094.9H1614.4"/>
<path d="M1549 1116H1654.6"/>
<path d="M1549 1137H1654.6"/>
</g>
<rect x="1558.4" y="997.4" width="2.6" height="49.3" stroke="#141414" stroke-width="1.1" fill="#fff"/>
<path d="M1558.4 1046.6A49.2 49.2 0 0 0 1607.6 997.4" stroke="#141414" stroke-width="1.15" fill="none" />
<path d="M1654.6 1103.7L1614.4 1103.7L1614.4 997.4" stroke="#141414" stroke-width="0.8" fill="none"/>
<rect x="1615" y="998" width="39" height="105" fill="#fff" stroke="none"/>
<path d="M1654.6 1103.7L1616.7 1103.7L1616.7 997.4" stroke="#383838" stroke-width="0.9" fill="none" stroke-dasharray="4.6 2.6"/>
<path d="M1616.7 1050.5L1654.6 1050.5" stroke="#383838" stroke-width="0.9" stroke-dasharray="4.6 2.6"/>
<path d="M1614.4 997.4L1614.4 1103.7" stroke="#141414" stroke-width="0.9"/>
<ellipse cx="1635.1" cy="1024.2" rx="15.2" ry="17.3" stroke="#333" stroke-width="0.9" fill="#fff"/>
<ellipse cx="1635.1" cy="1024.7" rx="12.5" ry="14.5" stroke="#383838" stroke-width="0.95" fill="none"/>
<ellipse cx="1635.1" cy="1076.5" rx="15.2" ry="17.3" stroke="#333" stroke-width="0.9" fill="#fff"/>
<ellipse cx="1635.1" cy="1077" rx="12.5" ry="14.5" stroke="#383838" stroke-width="0.95" fill="none"/>
<path d="M1630 1003H1640M1635 998.5V1003" stroke="#141414" stroke-width="0.8" fill="none" />
<path d="M1647 1092V1100M1647 1096H1653" stroke="#141414" stroke-width="0.8" fill="none" />
<path d="M1612 1108H1620V1104" stroke="#141414" stroke-width="0.8" fill="none" />
<rect x="1638.6" y="1110.7" width="14" height="36.3" stroke="#383838" stroke-width="0.95" fill="#fff" rx="2"/>
<ellipse cx="1619.3" cy="1128.5" rx="15.6" ry="13.1" stroke="#444" stroke-width="0.9" fill="#fff"/>
<ellipse cx="1618.3" cy="1128.5" rx="10.6" ry="8.6" stroke="#444" stroke-width="0.9" fill="none"/>
<rect x="1549" y="1082.6" width="7.1" height="36.4" stroke="#141414" stroke-width="0.8" fill="#fff"/>
<path d="M1551.5 1086L1551.5 1116" stroke="#383838" stroke-width="0.95"/>
<path d="M1549 1154.6L1654.6 1154.6" stroke="#141414" stroke-width="0.8"/>
<path d="M1556.3 1157.5H1631Q1649.1 1160 1649.1 1180.4Q1649.1 1201 1631 1203.2H1556.3Q1553 1203.2 1553 1200V1160.8Q1553 1157.5 1556.3 1157.5Z" stroke="#333" stroke-width="0.8" fill="#fff" />
<circle cx="1631.9" cy="1180.7" r="6.3" stroke="#141414" stroke-width="0.8" fill="#fff"/>
<circle cx="1631.9" cy="1180.7" r="1" stroke="#141414" stroke-width="0" fill="#141414"/>
<path d="M1631.9 1180.7L1654.6 1180.7" stroke="#141414" stroke-width="0.9"/>
<path d="M1653.6 1176.5L1653.6 1185" stroke="#141414" stroke-width="1.6"/>
<text x="1560.5" y="1184.4" font-size="11.34" fill="#141414" font-family="Liberation Sans" textLength="62.7" lengthAdjust="spacingAndGlyphs" stroke="none">TUB/ SHOWER</text>
<text x="0" y="0" font-size="20.93" fill="#141414" font-family="Liberation Sans" textLength="69.3" lengthAdjust="spacingAndGlyphs" transform="translate(1590.9 1132.1) rotate(-90)" stroke="none">BATH #3</text>
<path d="M1594.7 1062.3L1594.7 1133" stroke="#141414" stroke-width="1.1"/>
<path d="M1542.7 1033L1492.5 1033L1492.5 1059.8" stroke="#141414" stroke-width="1.62" fill="none"/>
<path d="M1542.7 1039.7L1499.5 1039.7L1499.5 1059.8" stroke="#141414" stroke-width="1.62" fill="none"/>
<path d="M1491.7 1059.8L1500.3 1059.8" stroke="#141414" stroke-width="1.8"/>
<path d="M1492.5 1207.2L1492.5 1186.1" stroke="#141414" stroke-width="1.62" fill="none"/>
<path d="M1499.5 1207.2L1499.5 1186.1" stroke="#141414" stroke-width="1.62"/>
<path d="M1491.7 1186.1L1500.3 1186.1" stroke="#141414" stroke-width="1.8"/>
<path d="M1521 1039.7L1521 1207.2" stroke="#141414" stroke-width="0.9"/>
<path d="M1524.5 1039.7L1524.5 1207.2" stroke="#141414" stroke-width="0.95" stroke-dasharray="4.6 2.6"/>
<path d="M1492.5 1059.8L1448.6 1104.9" stroke="#141414" stroke-width="0.9" fill="none"/>
<path d="M1491.3 1059L1447.4 1104" stroke="#141414" stroke-width="0.95" fill="none"/>
<path d="M1492.5 1186.1L1448.6 1141" stroke="#141414" stroke-width="0.9" fill="none"/>
<path d="M1491.3 1187L1447.4 1142" stroke="#141414" stroke-width="0.95" fill="none"/>
<path d="M1448.6 1104.9Q1468.6 1120 1492.5 1123.3Q1468.6 1126.5 1448.6 1141" stroke="#141414" stroke-width="0.9" fill="none" />
<path d="M1661.4 1033L1711.6 1033L1711.6 1059.8" stroke="#141414" stroke-width="1.62" fill="none"/>
<path d="M1661.4 1039.7L1704.6 1039.7L1704.6 1059.8" stroke="#141414" stroke-width="1.62" fill="none"/>
<path d="M1712.4 1059.8L1703.8 1059.8" stroke="#141414" stroke-width="1.8"/>
<path d="M1711.6 1207.2L1711.6 1186.1" stroke="#141414" stroke-width="1.62" fill="none"/>
<path d="M1704.6 1207.2L1704.6 1186.1" stroke="#141414" stroke-width="1.62"/>
<path d="M1712.4 1186.1L1703.8 1186.1" stroke="#141414" stroke-width="1.8"/>
<path d="M1683.1 1039.7L1683.1 1207.2" stroke="#141414" stroke-width="0.9"/>
<path d="M1679.6 1039.7L1679.6 1207.2" stroke="#141414" stroke-width="0.95" stroke-dasharray="4.6 2.6"/>
<path d="M1711.6 1059.8L1755.5 1104.9" stroke="#141414" stroke-width="0.9" fill="none"/>
<path d="M1712.8 1059L1756.7 1104" stroke="#141414" stroke-width="0.95" fill="none"/>
<path d="M1711.6 1186.1L1755.5 1141" stroke="#141414" stroke-width="0.9" fill="none"/>
<path d="M1712.8 1187L1756.7 1142" stroke="#141414" stroke-width="0.95" fill="none"/>
<path d="M1755.5 1104.9Q1735.5 1120 1711.6 1123.3Q1735.5 1126.5 1755.5 1141" stroke="#141414" stroke-width="0.9" fill="none" />
<path d="M1247 1207.2L1492.5 1207.2" stroke="#141414" stroke-width="1.62"/>
<path d="M1499.7 1207.2L1542.7 1207.2" stroke="#141414" stroke-width="1.62"/>
<path d="M1549 1207.2L1654.6 1207.2" stroke="#141414" stroke-width="1.62"/>
<path d="M1661.4 1207.2L1704.4 1207.2" stroke="#141414" stroke-width="1.62"/>
<path d="M1711.6 1207.2L1950 1207.2" stroke="#141414" stroke-width="1.62"/>
<text x="1297.3" y="1077.4" font-size="20.49" fill="#141414" font-family="Liberation Sans" textLength="127.7" lengthAdjust="spacingAndGlyphs" stroke="none">BEDROOM #4</text>
<path d="M1296.3 1082.6L1426 1082.6" stroke="#141414" stroke-width="1.1"/>
<text x="1780.7" y="1083" font-size="20.49" fill="#141414" font-family="Liberation Sans" textLength="127.2" lengthAdjust="spacingAndGlyphs" stroke="none">BEDROOM #3</text>
<path d="M1779.7 1088.6L1908.9 1088.6" stroke="#141414" stroke-width="1.1"/>
<text x="1390.7" y="593.7" font-size="20.64" fill="#141414" font-family="Liberation Sans" textLength="106.8" lengthAdjust="spacingAndGlyphs" stroke="none">REC ROOM</text>
<path d="M1389.7 599.2L1498.5 599.2" stroke="#141414" stroke-width="1.1"/>
</g>
<g id="right">
<path d="M2114.5 48.7L2878.3 48.7" stroke="#141414" stroke-width="0.9"/>
<path d="M2485.8 48.7L2494.2 48.7L2496.65 54.3L2500.15 41L2501.9 48.7L2509.6 48.7" stroke="#141414" stroke-width="1" fill="none" stroke-linejoin="miter"/>
<path d="M2135.5 48.7L2135.5 425.7" stroke="#141414" stroke-width="1.62"/>
<path d="M2145.5 48.7L2145.5 176.2" stroke="#141414" stroke-width="1.62"/>
<path d="M2145.5 183L2145.5 415" stroke="#141414" stroke-width="1.62"/>
<path d="M2167 55.5L2167 108.7" stroke="#383838" stroke-width="0.9" stroke-dasharray="4.6 2.6"/>
<path d="M2189.2 48.7L2189.2 108.7" stroke="#383838" stroke-width="0.95" stroke-dasharray="4.6 2.6"/>
<path d="M2146 55.5L2167 55.5" stroke="#383838" stroke-width="0.9" stroke-dasharray="4.6 2.6"/>
<rect x="2146.2" y="108.7" width="51.8" height="66.3" stroke="#141414" stroke-width="1.62" fill="none"/>
<rect x="2147.7" y="111" width="49.8" height="62.5" stroke="#383838" stroke-width="0.95" fill="none"/>
<path d="M2200 110.5L2200 173" stroke="#383838" stroke-width="0.95"/>
<rect x="2202.2" y="110.5" width="3.3" height="62.5" stroke="#383838" stroke-width="0.95" fill="none" stroke-dasharray="3 2"/>
<path d="M2205.5 112L2208.5 112" stroke="#141414" stroke-width="0.95"/>
<path d="M2208.5 112L2208.5 115" stroke="#141414" stroke-width="0.95"/>
<path d="M2145.5 176.2L2206.7 176.2L2206.7 183L2145.5 183" stroke="#141414" stroke-width="1.62" fill="none"/>
<path d="M2280 48.7L2280 142.5L2352 142.5L2352 48.7" stroke="#141414" stroke-width="0.8" fill="none"/>
<path d="M2282 48.7L2282 138L2324.3 138" stroke="#383838" stroke-width="0.9" fill="none" stroke-dasharray="4.6 2.6"/>
<path d="M2324.3 48.7L2324.3 140L2331 140L2331 48.7" stroke="#383838" stroke-width="0.9" fill="none" stroke-dasharray="4.6 2.6"/>
<text x="2192" y="83" font-size="21.8" fill="#141414" font-family="Liberation Sans" textLength="84.2" lengthAdjust="spacingAndGlyphs" stroke="none">KITCHEN</text>
<path d="M2191 88L2277.2 88" stroke="#141414" stroke-width="1.1"/>
<path d="M2145.5 415L2465.5 415" stroke="#141414" stroke-width="1.62"/>
<path d="M2135.5 425.7L2475.5 425.7" stroke="#141414" stroke-width="1.62"/>
<path d="M2465.5 165L2465.5 415" stroke="#141414" stroke-width="1.62"/>
<path d="M2475.5 175L2475.5 425.7" stroke="#141414" stroke-width="1.62"/>
<rect x="2133.9" y="233.7" width="13" height="130" stroke="#383838" stroke-width="0.95" fill="#fff"/>
<path d="M2137.5 233.7L2137.5 363.7" stroke="#383838" stroke-width="0.95"/>
<path d="M2142.8 236.2L2142.8 296" stroke="#141414" stroke-width="1.5"/>
<path d="M2142.8 303L2142.8 361.2" stroke="#141414" stroke-width="1.5"/>
<rect x="2135.5" y="296.9" width="10.8" height="5.2" stroke="#141414" stroke-width="0.9" fill="#fff" rx="0.8"/>
<rect x="2206.7" y="413.6" width="197.8" height="13.7" stroke="#383838" stroke-width="0.95" fill="#fff"/>
<path d="M2206.7 423.7L2404.5 423.7" stroke="#383838" stroke-width="0.95"/>
<path d="M2209.2 417.89L2267.7 417.89" stroke="#141414" stroke-width="1.5"/>
<path d="M2274.7 417.89L2335.7 417.89" stroke="#141414" stroke-width="1.5"/>
<path d="M2342.7 417.89L2402 417.89" stroke="#141414" stroke-width="1.5"/>
<rect x="2268.6" y="414.2" width="5.2" height="11.5" stroke="#141414" stroke-width="0.9" fill="#fff" rx="0.8"/>
<rect x="2336.6" y="414.2" width="5.2" height="11.5" stroke="#141414" stroke-width="0.9" fill="#fff" rx="0.8"/>
<text x="2228" y="290.5" font-size="20.78" fill="#141414" font-family="Liberation Sans" textLength="134" lengthAdjust="spacingAndGlyphs" stroke="none">DINING ROOM</text>
<path d="M2227 295.5L2363 295.5" stroke="#141414" stroke-width="1.1"/>
<path d="M2465.5 48.7L2465.5 80.5" stroke="#141414" stroke-width="1.62"/>
<path d="M2472 48.7L2472 74.2" stroke="#141414" stroke-width="1.62"/>
<path d="M2472 74.2L2509.5 74.2" stroke="#141414" stroke-width="1.62"/>
<path d="M2465.5 80.7L2509.5 80.7" stroke="#141414" stroke-width="1.62"/>
<path d="M2509.5 74.2L2509.5 80.7" stroke="#141414" stroke-width="1.62"/>
<path d="M2508.7 73.2L2516 73.2" stroke="#141414" stroke-width="1.8"/>
<path d="M2508.7 81.5L2516 81.5" stroke="#141414" stroke-width="1.8"/>
<path d="M2515.7 74.2L2515.7 80.7" stroke="#141414" stroke-width="1.62"/>
<path d="M2565 74.2L2623.2 74.2" stroke="#141414" stroke-width="1.62"/>
<path d="M2571.2 80.7L2623.2 80.7" stroke="#141414" stroke-width="1.62"/>
<path d="M2565 74.2L2565 80.7" stroke="#141414" stroke-width="1.62"/>
<path d="M2571.2 74.2L2571.2 80.7" stroke="#141414" stroke-width="1.62"/>
<path d="M2564.5 73.2L2572 73.2" stroke="#141414" stroke-width="1.8"/>
<path d="M2564.5 81.5L2572 81.5" stroke="#141414" stroke-width="1.8"/>
<path d="M2565 80.7L2529.5 115L2530.7 116.2L2566.2 82" stroke="#141414" stroke-width="1.1" fill="none"/>
<path d="M2515.57 80.59A49.5 49.5 0 0 0 2532.53 115.36" stroke="#141414" stroke-width="1.15" fill="none" />
<path d="M2623.2 48.7L2623.2 97.5" stroke="#141414" stroke-width="1.62"/>
<path d="M2630.2 48.7L2630.2 97.5" stroke="#141414" stroke-width="1.62"/>
<path d="M2622.2 97.5L2631.2 97.5" stroke="#141414" stroke-width="1.8"/>
<rect x="2630.5" y="151.2" width="56" height="2.6" stroke="#141414" stroke-width="1.1" fill="#fff"/>
<path d="M2630.2 97.2A56 56 0 0 1 2686.2 153.2" stroke="#141414" stroke-width="1.15" fill="none" />
<path d="M2623.2 165L2623.2 154.2L2630.2 154.2L2630.2 165" stroke="#141414" stroke-width="1.62" fill="none"/>
<path d="M2622.2 154.2L2631.2 154.2" stroke="#141414" stroke-width="1.8"/>
<path d="M2630.2 165L2848.2 165" stroke="#141414" stroke-width="1.62"/>
<path d="M2568.2 165L2623.2 165" stroke="#141414" stroke-width="1.62"/>
<path d="M2568.2 175L2857.7 175" stroke="#141414" stroke-width="1.62"/>
<path d="M2848.2 48.7L2848.2 165" stroke="#141414" stroke-width="1.62"/>
<path d="M2857.7 48.7L2857.7 175" stroke="#141414" stroke-width="1.62"/>
<rect x="2846.8" y="92.5" width="12.5" height="47.5" stroke="#383838" stroke-width="0.95" fill="#fff"/>
<path d="M2855.7 92.5L2855.7 140" stroke="#383838" stroke-width="0.95"/>
<path d="M2850.76 95L2850.76 137.5" stroke="#141414" stroke-width="1.5"/>
<text x="2702.7" y="115.7" font-size="21.8" fill="#141414" font-family="Liberation Sans" textLength="93" lengthAdjust="spacingAndGlyphs" stroke="none">LAUNDRY</text>
<path d="M2701.7 120.5L2796.7 120.5" stroke="#141414" stroke-width="1.1"/>
<path d="M2857.7 55L2964.5 55L2964.5 177.5L2953.7 177.5L2953.7 66.2L2857.7 66.2" stroke="#383838" stroke-width="0.95" fill="none"/>
<path d="M2857.7 57.5L2962 57.5L2962 177.5" stroke="#383838" stroke-width="0.9" fill="none"/>
<path d="M2857.7 62L2958.2 62L2958.2 177.5" stroke="#383838" stroke-width="0.9" fill="none" stroke-dasharray="4.6 2.6"/>
<path d="M2857.7 174.7L2953.7 174.7" stroke="#383838" stroke-width="0.95"/>
<rect x="2878.7" y="85" width="62.8" height="62.5" stroke="#383838" stroke-width="0.95" fill="none"/>
<text x="2888.2" y="119.5" font-size="11.05" fill="#141414" font-family="Liberation Sans" textLength="43" lengthAdjust="spacingAndGlyphs" stroke="none">A/C UNIT</text>
<path d="M2465.5 165L2493.2 165" stroke="#141414" stroke-width="1.62"/>
<path d="M2475.5 175L2493.2 175" stroke="#141414" stroke-width="1.62"/>
<path d="M2493.2 165L2493.2 175" stroke="#141414" stroke-width="1.62"/>
<path d="M2499 165L2499 175" stroke="#141414" stroke-width="1.62"/>
<path d="M2492.5 164L2499.8 164" stroke="#141414" stroke-width="1.8"/>
<path d="M2492.5 176L2499.8 176" stroke="#141414" stroke-width="1.8"/>
<path d="M2562 165L2562 175" stroke="#141414" stroke-width="1.62"/>
<path d="M2568.2 165L2568.2 175" stroke="#141414" stroke-width="1.62"/>
<path d="M2561.3 164L2569 164" stroke="#141414" stroke-width="1.8"/>
<path d="M2561.3 176L2569 176" stroke="#141414" stroke-width="1.8"/>
<path d="M2562 165L2517 120.7L2518.2 119.5L2563.3 163.8" stroke="#141414" stroke-width="1.1" fill="#fff"/>
<path d="M2517.45 120.45A63 63 0 0 0 2499 165" stroke="#141414" stroke-width="1.15" fill="none" />
<path d="M2812.7 175L2812.7 371.7" stroke="#141414" stroke-width="0.8"/>
<path d="M2818.2 175L2818.2 371.7" stroke="#141414" stroke-width="0.8"/>
<path d="M2822.7 175L2822.7 390" stroke="#383838" stroke-width="0.9" stroke-dasharray="4.6 2.6"/>
<path d="M2826.2 175L2826.2 393" stroke="#383838" stroke-width="0.95"/>
<path d="M2602.5 380L2804 380" stroke="#141414" stroke-width="0.8"/>
<path d="M2602.5 385.7L2804 385.7" stroke="#141414" stroke-width="0.8"/>
<path d="M2475.5 390L2822.7 390" stroke="#383838" stroke-width="0.9" stroke-dasharray="4.6 2.6"/>
<path d="M2475.5 393L2826.2 393" stroke="#383838" stroke-width="0.95"/>
<rect x="2582.7" y="371.5" width="19.8" height="19.5" stroke="#383838" stroke-width="0.9" fill="#fff"/>
<rect x="2584" y="372.8" width="17.2" height="16.9" stroke="#141414" stroke-width="0.9" fill="#fff"/>
<rect x="2587.9" y="376.55" width="9.4" height="9.4" stroke="#141414" stroke-width="0.9" fill="#fff"/>
<path d="M2587.9 376.55L2597.3 385.95" stroke="#141414" stroke-width="0.9"/>
<path d="M2587.9 385.95L2597.3 376.55" stroke="#141414" stroke-width="0.9"/>
<rect x="2804" y="371.5" width="19.5" height="19.5" stroke="#383838" stroke-width="0.9" fill="#fff"/>
<rect x="2805.3" y="372.8" width="16.9" height="16.9" stroke="#141414" stroke-width="0.9" fill="#fff"/>
<rect x="2809.05" y="376.55" width="9.4" height="9.4" stroke="#141414" stroke-width="0.9" fill="#fff"/>
<path d="M2809.05 376.55L2818.45 385.95" stroke="#141414" stroke-width="0.9"/>
<path d="M2809.05 385.95L2818.45 376.55" stroke="#141414" stroke-width="0.9"/>
<path d="M2475.5 409.5L2602.5 409.5" stroke="#383838" stroke-width="0.95" fill="none"/>
<path d="M2475.5 426.7L2602.5 426.7L2602.5 393" stroke="#383838" stroke-width="0.95" fill="none"/>
<path d="M2475.5 407L2600 407" stroke="#383838" stroke-width="0.9" stroke-dasharray="4.6 2.6"/>
<path d="M2475.5 424.5L2600 424.5" stroke="#383838" stroke-width="0.9" stroke-dasharray="4.6 2.6"/>
<path d="M2600 393L2600 424.5" stroke="#383838" stroke-width="0.9" stroke-dasharray="4.6 2.6"/>
<path d="M2590.5 391L2590.5 412.5" stroke="#141414" stroke-width="0.8"/>
<path d="M2595 391L2595 412.5" stroke="#141414" stroke-width="0.8"/>
<rect x="2588.2" y="413" width="9.3" height="9.5" stroke="#141414" stroke-width="0.8" fill="#fff"/>
<path d="M2538 379L2538 425" stroke="#141414" stroke-width="0.8"/>
<circle cx="2538" cy="425" r="2.9" stroke="#141414" stroke-width="0" fill="#141414"/>
<path d="M2533.4 381.95L2538 378.5L2542.6 381.95" stroke="#141414" stroke-width="1.9" fill="none" stroke-linejoin="round"/>
<path d="M2538 425L2538 432" stroke="#141414" stroke-width="0.8"/>
<text x="2532" y="445.5" font-size="11.34" fill="#141414" font-family="Liberation Sans" textLength="11.7" lengthAdjust="spacingAndGlyphs" stroke="none">UP</text>
<text x="2596.2" y="277" font-size="21.08" fill="#141414" font-family="Liberation Sans" textLength="130" lengthAdjust="spacingAndGlyphs" stroke="none">REAR PORCH</text>
<path d="M2595.2 282.5L2727.2 282.5" stroke="#141414" stroke-width="1.1"/>
<path d="M2039.3 541.6L2317.4 541.6" stroke="#141414" stroke-width="0.9"/>
<path d="M2166.9 541.6L2175.3 541.6L2177.75 547.2L2181.25 533.9L2183 541.6L2190.7 541.6" stroke="#141414" stroke-width="1" fill="none" stroke-linejoin="miter"/>
<path d="M2039.3 541.6L2039.3 755" stroke="#141414" stroke-width="0.8"/>
<path d="M2061.2 541.6L2061.2 562.6" stroke="#141414" stroke-width="1.62"/>
<path d="M2061.2 569.6L2061.2 634" stroke="#141414" stroke-width="1.62"/>
<path d="M2061.2 641L2061.2 657.7" stroke="#141414" stroke-width="1.62"/>
<path d="M2067.7 541.6L2067.7 562.6" stroke="#141414" stroke-width="1.62"/>
<path d="M2067.7 572.6L2067.7 657.7" stroke="#141414" stroke-width="1.62"/>
<path d="M2060.2 657.7L2068.7 657.7" stroke="#141414" stroke-width="1.8"/>
<path d="M2039.3 562.6L2061.2 562.6" stroke="#141414" stroke-width="1.62"/>
<path d="M2067.7 562.6L2286.3 562.6" stroke="#141414" stroke-width="1.62"/>
<path d="M2039.3 569.6L2061.2 569.6" stroke="#141414" stroke-width="1.62"/>
<path d="M2067.7 572.6L2286.3 572.6" stroke="#141414" stroke-width="1.62"/>
<path d="M2039.3 634L2061.2 634" stroke="#141414" stroke-width="1.62"/>
<path d="M2039.3 641L2061.2 641" stroke="#141414" stroke-width="1.62"/>
<path d="M2039.3 637.1L2039.3 645.5L2033.7 647.95L2047 651.45L2039.3 653.2L2039.3 660.9" stroke="#141414" stroke-width="1" fill="none" stroke-linejoin="miter"/>
<path d="M2286.3 541.6L2286.3 725.6" stroke="#141414" stroke-width="1.62"/>
<path d="M2296.3 541.6L2296.3 725.6" stroke="#141414" stroke-width="1.62"/>
<path d="M2296.3 725.6L2318 725.6" stroke="#141414" stroke-width="1.62"/>
<path d="M2067.7 725.6L2286.3 725.6" stroke="#141414" stroke-width="1.62"/>
<path d="M2039.3 725.6L2061.2 725.6" stroke="#141414" stroke-width="1.62"/>
<path d="M2039.3 735.4L2318 735.4" stroke="#141414" stroke-width="1.62"/>
<path d="M2318 718.6L2318 727L2312.4 729.45L2325.7 732.95L2318 734.7L2318 742.4" stroke="#141414" stroke-width="1" fill="none" stroke-linejoin="miter"/>
<path d="M2061.2 725.6L2061.2 714.7L2067.7 714.7L2067.7 725.6" stroke="#141414" stroke-width="1.62" fill="none"/>
<path d="M2060.2 714.7L2068.7 714.7" stroke="#141414" stroke-width="1.8"/>
<rect x="2068" y="711.3" width="56.4" height="2.6" stroke="#141414" stroke-width="1.1" fill="#fff"/>
<path d="M2067.7 657.7A56 56 0 0 1 2123.7 713.7" stroke="#141414" stroke-width="1.15" fill="none" />
<path d="M2067.7 617L2174.4 617L2174.4 572.6" stroke="#444" stroke-width="0.8" fill="none"/>
<path d="M2067.7 615L2172.4 615L2172.4 572.6" stroke="#383838" stroke-width="0.9" fill="none" stroke-dasharray="4.6 2.6"/>
<rect x="2073.5" y="574" width="43.9" height="37.8" stroke="#444" stroke-width="0.8" fill="none"/>
<rect x="2076.5" y="580.5" width="38.2" height="29" stroke="#444" stroke-width="0.8" fill="none" rx="3"/>
<path d="M2067.7 594.9L2286.3 594.9" stroke="#444" stroke-width="0.8" stroke-dasharray="4.6 2.6"/>
<text x="2085.8" y="605.1" font-size="11.34" fill="#141414" font-family="Liberation Sans" textLength="19.3" lengthAdjust="spacingAndGlyphs" stroke="none">SINK</text>
<path d="M2179.3 627V577H2226.7V627Q2203 633 2179.3 627" stroke="#383838" stroke-width="0.9" fill="none" stroke-dasharray="4.6 2.6" />
<text x="2200" y="624.5" font-size="10.76" fill="#141414" font-family="Liberation Sans" textLength="6" lengthAdjust="spacingAndGlyphs" stroke="none">W</text>
<path d="M2233.5 627V577H2280.9V627Q2257.2 633 2233.5 627" stroke="#383838" stroke-width="0.9" fill="none" stroke-dasharray="4.6 2.6" />
<text x="2254.2" y="624.5" font-size="10.76" fill="#141414" font-family="Liberation Sans" textLength="6" lengthAdjust="spacingAndGlyphs" stroke="none">D</text>
<rect x="2284.9" y="652.5" width="13" height="48.2" stroke="#383838" stroke-width="0.95" fill="#fff"/>
<path d="M2294.3 652.5L2294.3 700.7" stroke="#383838" stroke-width="0.95"/>
<path d="M2289 655L2289 698.2" stroke="#141414" stroke-width="1.5"/>
<text x="2148.6" y="675.3" font-size="21.66" fill="#141414" font-family="Liberation Sans" textLength="92.1" lengthAdjust="spacingAndGlyphs" stroke="none">LAUNDRY</text>
<path d="M2147.6 680L2241.7 680" stroke="#141414" stroke-width="1.1"/>
<path d="M2228.6 873.4L2179.7 873.4L2179.7 994L2148.6 994L2148.6 1079.1L2179.7 1079.1L2179.7 1207.3" stroke="#141414" stroke-width="1.62" fill="none"/>
<path d="M2228.6 883.3L2189.7 883.3L2189.7 1004" stroke="#141414" stroke-width="1.62" fill="none"/>
<path d="M2189.7 1004L2183.6 1000.3L2154.6 1000.3L2154.6 1073.1L2183.6 1073.1L2189.7 1069.5" stroke="#141414" stroke-width="1.62" fill="none"/>
<path d="M2189.7 1069.5L2189.7 1189.4" stroke="#141414" stroke-width="1.62"/>
<path d="M2189.7 1189.4L2229.2 1189.4" stroke="#141414" stroke-width="1.62"/>
<path d="M2189.7 1196.8L2229.2 1196.8" stroke="#141414" stroke-width="1.62"/>
<path d="M2189.7 1196.8L2189.7 1207.3" stroke="#141414" stroke-width="1.62"/>
<path d="M2174.4 1207.3L2229.2 1207.3" stroke="#141414" stroke-width="0.9"/>
<path d="M2229.2 1183.7L2229.2 1207.3" stroke="#141414" stroke-width="0.9"/>
<path d="M2228.6 866.4L2228.6 874.8L2223 877.25L2236.3 880.75L2228.6 882.5L2228.6 890.2" stroke="#141414" stroke-width="1" fill="none" stroke-linejoin="miter"/>
<path d="M2189.1 1207.3L2197.5 1207.3L2199.95 1212.9L2203.45 1199.6L2205.2 1207.3L2212.9 1207.3" stroke="#141414" stroke-width="1" fill="none" stroke-linejoin="miter"/>
<rect x="2178.1" y="907.4" width="13" height="62.6" stroke="#383838" stroke-width="0.95" fill="#fff"/>
<path d="M2181.7 907.4L2181.7 970" stroke="#383838" stroke-width="0.95"/>
<path d="M2187 909.9L2187 967.5" stroke="#141414" stroke-width="1.5"/>
<rect x="2178.1" y="1103.3" width="13" height="62.2" stroke="#383838" stroke-width="0.95" fill="#fff"/>
<path d="M2181.7 1103.3L2181.7 1165.5" stroke="#383838" stroke-width="0.95"/>
<path d="M2187 1105.8L2187 1163" stroke="#141414" stroke-width="1.5"/>
<path d="M2189 1004.8L2164.2 1017.5L2164.2 1067L2189 1080" stroke="#333" stroke-width="0.95" fill="none"/>
<path d="M2170 1013.5L2176 1010.5" stroke="#141414" stroke-width="1.6"/>
<path d="M2180 1008.5L2186 1005.5" stroke="#141414" stroke-width="1.6"/>
<path d="M2170 1070.5L2176 1073.5" stroke="#141414" stroke-width="1.6"/>
<path d="M2180 1075.5L2186 1078.5" stroke="#141414" stroke-width="1.6"/>
<path d="M2163.7 1030L2163.7 1043" stroke="#141414" stroke-width="1.6"/>
<rect x="2168" y="1026.5" width="18.9" height="20" stroke="#333" stroke-width="0.8" fill="none"/>
<circle cx="2177.6" cy="1037" r="7.4" stroke="#141414" stroke-width="0.9" fill="none"/>
<circle cx="2177.6" cy="1037" r="4.7" stroke="#141414" stroke-width="0.9" fill="none"/>
<circle cx="2177.6" cy="1037" r="1.7" stroke="#141414" stroke-width="0.9" fill="none"/>
<path d="M2188.5 1004L2188.5 1071" stroke="#383838" stroke-width="0.9"/>
<path d="M2189.7 984.4L2202.7 984.4L2202.7 1089L2189.7 1089" stroke="#383838" stroke-width="0.9" fill="none" stroke-dasharray="4.6 2.6"/>
<path d="M2189.7 984.4L2202.7 984.4" stroke="#383838" stroke-width="0.95"/>
<path d="M2189.7 1089L2202.7 1089" stroke="#383838" stroke-width="0.95"/>
<path d="M2189.7 988.8L2193.5 988.8L2193.5 1001.6L2189.7 1001.6" stroke="#333" stroke-width="0.95" fill="none"/>
<path d="M2189.7 1071.5L2193.5 1071.5L2193.5 1085.5L2189.7 1085.5" stroke="#333" stroke-width="0.95" fill="none"/>
<text x="0" y="0" font-size="12.5" fill="#141414" font-family="Liberation Sans" textLength="127.8" lengthAdjust="spacingAndGlyphs" transform="translate(2215 1103.3) rotate(-90)" stroke="none">36" GAS VENTED FIREPLACE</text>
<text x="0" y="0" font-size="12.5" fill="#141414" font-family="Liberation Sans" textLength="56.1" lengthAdjust="spacingAndGlyphs" transform="translate(2229.8 1067.6) rotate(-90)" stroke="none">W/TV ABOVE</text>
<path d="M2420 555L2434.2 555" stroke="#141414" stroke-width="1.62"/>
<path d="M2430 565.5L2434.2 565.5" stroke="#141414" stroke-width="1.62"/>
<path d="M2434.2 555L2434.2 565.5" stroke="#141414" stroke-width="1.62"/>
<path d="M2440.7 555L2440.7 565.5" stroke="#141414" stroke-width="1.62"/>
<path d="M2433.5 554L2441.5 554" stroke="#141414" stroke-width="1.8"/>
<path d="M2433.5 566.5L2441.5 566.5" stroke="#141414" stroke-width="1.8"/>
<path d="M2503.7 555L2503.7 565.5" stroke="#141414" stroke-width="1.62"/>
<path d="M2510.7 555L2510.7 565.5" stroke="#141414" stroke-width="1.62"/>
<path d="M2503 554L2511.5 554" stroke="#141414" stroke-width="1.8"/>
<path d="M2503 566.5L2511.5 566.5" stroke="#141414" stroke-width="1.8"/>
<path d="M2510.7 555L2578 555" stroke="#141414" stroke-width="1.62"/>
<path d="M2585 555L2803 555" stroke="#141414" stroke-width="1.62"/>
<path d="M2813 555L2875.5 555" stroke="#141414" stroke-width="1.62"/>
<path d="M2510.7 565.5L2865.5 565.5" stroke="#141414" stroke-width="1.62"/>
<path d="M2578 555L2578 531.2" stroke="#141414" stroke-width="1.62"/>
<path d="M2585 555L2585 531.2" stroke="#141414" stroke-width="1.62"/>
<path d="M2803 555L2803 531.2" stroke="#141414" stroke-width="1.62"/>
<path d="M2813 555L2813 531.2" stroke="#141414" stroke-width="1.62"/>
<path d="M2570.45 531.2L2578.25 531.2L2580.53 536.4L2583.78 524.05L2585.4 531.2L2592.55 531.2" stroke="#141414" stroke-width="1" fill="none" stroke-linejoin="miter"/>
<path d="M2796.95 531.2L2804.75 531.2L2807.03 536.4L2810.28 524.05L2811.9 531.2L2819.05 531.2" stroke="#141414" stroke-width="1" fill="none" stroke-linejoin="miter"/>
<path d="M2420 555L2420 838.7" stroke="#141414" stroke-width="1.62"/>
<path d="M2420 848L2420 1049" stroke="#141414" stroke-width="1.62"/>
<path d="M2430 565.5L2430 1038" stroke="#141414" stroke-width="1.62"/>
<path d="M2398 838.7L2420 838.7" stroke="#141414" stroke-width="1.62"/>
<path d="M2398 848L2420 848" stroke="#141414" stroke-width="1.62"/>
<path d="M2396 832.25L2396 840.05L2390.8 842.32L2403.15 845.57L2396 847.2L2396 854.35" stroke="#141414" stroke-width="1" fill="none" stroke-linejoin="miter"/>
<path d="M2865.5 565.5L2865.5 1038" stroke="#141414" stroke-width="1.62"/>
<path d="M2875.5 555L2875.5 1049" stroke="#141414" stroke-width="1.62"/>
<path d="M2430 1038L2480 1038" stroke="#141414" stroke-width="1.62"/>
<path d="M2815.5 1038L2865.5 1038" stroke="#141414" stroke-width="1.62"/>
<path d="M2420 1049L2480 1049" stroke="#141414" stroke-width="1.62"/>
<path d="M2815.5 1049L2875.5 1049" stroke="#141414" stroke-width="1.62"/>
<path d="M2480 1049L2815.5 1049" stroke="#383838" stroke-width="0.95"/>
<path d="M2480 1032.3L2815.5 1032.3" stroke="#141414" stroke-width="0.9"/>
<path d="M2480 1034.8L2815.5 1034.8" stroke="#141414" stroke-width="0.9"/>
<path d="M2480 1034.8L2480 1049" stroke="#141414" stroke-width="0.9"/>
<path d="M2481.8 1038L2481.8 1049" stroke="#383838" stroke-width="0.9"/>
<rect x="2471" y="1035.3" width="9" height="2.7" stroke="#141414" stroke-width="0.8" fill="#fff"/>
<rect x="2480" y="1029" width="7" height="3" stroke="#141414" stroke-width="0.95" fill="none"/>
<path d="M2480 1027L2480 1035" stroke="#141414" stroke-width="0.8"/>
<path d="M2815.5 1034.8L2815.5 1049" stroke="#141414" stroke-width="0.9"/>
<path d="M2813.7 1038L2813.7 1049" stroke="#383838" stroke-width="0.9"/>
<rect x="2815.5" y="1035.3" width="9" height="2.7" stroke="#141414" stroke-width="0.8" fill="#fff"/>
<rect x="2808.5" y="1029" width="7" height="3" stroke="#141414" stroke-width="0.95" fill="none"/>
<path d="M2815.5 1027L2815.5 1035" stroke="#141414" stroke-width="0.8"/>
<rect x="2480" y="868.7" width="335.5" height="163.3" stroke="#333" stroke-width="0.9" fill="none" stroke-dasharray="2 2.4"/>
<path d="M2503.7 555L2459.5 510.5L2460.7 509.3L2505 553.8" stroke="#141414" stroke-width="1.1" fill="#fff"/>
<path d="M2459.15 510.45A63 63 0 0 0 2440.7 555" stroke="#141414" stroke-width="1.15" fill="none" />
<path d="M2430 583.7L2515 583.7L2515 565.5" stroke="#383838" stroke-width="0.95" fill="none"/>
<path d="M2430 601.2L2515 601.2L2515 583.7" stroke="#383838" stroke-width="0.95" fill="none"/>
<path d="M2430 582L2513 582" stroke="#383838" stroke-width="0.9" stroke-dasharray="4.6 2.6"/>
<path d="M2430 599.5L2513 599.5" stroke="#383838" stroke-width="0.9" stroke-dasharray="4.6 2.6"/>
<path d="M2513 565.5L2513 599.5" stroke="#383838" stroke-width="0.9" stroke-dasharray="4.6 2.6"/>
<path d="M2471.2 554L2471.2 599.5" stroke="#141414" stroke-width="0.8"/>
<circle cx="2471.2" cy="599.5" r="2.9" stroke="#141414" stroke-width="0" fill="#141414"/>
<path d="M2466.6 556.95L2471.2 553.5L2475.8 556.95" stroke="#141414" stroke-width="1.9" fill="none" stroke-linejoin="round"/>
<path d="M2471.2 599.5L2471.2 606.5" stroke="#141414" stroke-width="0.8"/>
<text x="2465.5" y="620" font-size="11.34" fill="#141414" font-family="Liberation Sans" textLength="11.5" lengthAdjust="spacingAndGlyphs" stroke="none">UP</text>
<text x="2609.2" y="765" font-size="21.51" fill="#141414" font-family="Liberation Sans" textLength="82.5" lengthAdjust="spacingAndGlyphs" stroke="none">GARAGE</text>
<path d="M2608.2 770L2692.7 770" stroke="#141414" stroke-width="1.1"/>
</g>
<g id="texts">
<text x="400" y="350.7" font-size="21.08" fill="#141414" font-family="Liberation Sans" textLength="227.5" lengthAdjust="spacingAndGlyphs" stroke="none">1ST FLR FRONT PORCH</text>
<path d="M399 356.2L628.5 356.2" stroke="#141414" stroke-width="1.1"/>
<text x="475" y="374.2" font-size="17.01" fill="#141414" font-family="Liberation Sans" textLength="77.5" lengthAdjust="spacingAndGlyphs" stroke="none">31'-6&quot; x 7'-0&quot;</text>
<text x="303.5" y="600.5" font-size="21.37" fill="#141414" font-family="Liberation Sans" textLength="134" lengthAdjust="spacingAndGlyphs" stroke="none">GREAT ROOM</text>
<path d="M302.5 605.7L438.5 605.7" stroke="#141414" stroke-width="1.1"/>
<text x="328.2" y="623.7" font-size="17.01" fill="#141414" font-family="Liberation Sans" textLength="83.8" lengthAdjust="spacingAndGlyphs" stroke="none">14'-8&quot; x 19'-4&quot;</text>
<text x="633" y="563" font-size="21.8" fill="#141414" font-family="Liberation Sans" textLength="187.5" lengthAdjust="spacingAndGlyphs" stroke="none">MASTER BEDROOM</text>
<path d="M632 567.5L821.5 567.5" stroke="#141414" stroke-width="1.1"/>
<text x="681.7" y="586.2" font-size="17.01" fill="#141414" font-family="Liberation Sans" textLength="90.8" lengthAdjust="spacingAndGlyphs" stroke="none">13'-10&quot; x 14'-2&quot;</text>
<text x="763" y="819.5" font-size="22.09" fill="#141414" font-family="Liberation Sans" textLength="64.5" lengthAdjust="spacingAndGlyphs" stroke="none">M. WIC</text>
<path d="M762 825L828.5 825" stroke="#141414" stroke-width="1.1"/>
<text x="340" y="1007" font-size="21.8" fill="#141414" font-family="Liberation Sans" textLength="94.5" lengthAdjust="spacingAndGlyphs" stroke="none">KITCHEN</text>
<path d="M339 1012.5L435.5 1012.5" stroke="#141414" stroke-width="1.1"/>
<text x="354.2" y="1025.5" font-size="11.05" fill="#141414" font-family="Liberation Sans" textLength="65.8" lengthAdjust="spacingAndGlyphs" stroke="none">15'-4&quot; x 14'-6&quot;</text>
<text x="477" y="988" font-size="17.88" fill="#141414" font-family="Liberation Sans" textLength="65.5" lengthAdjust="spacingAndGlyphs" stroke="none">PANTRY</text>
<path d="M476 992.5L543.5 992.5" stroke="#141414" stroke-width="1.1"/>
<text x="730.7" y="1162.5" font-size="17.01" fill="#141414" font-family="Liberation Sans" textLength="76.3" lengthAdjust="spacingAndGlyphs" stroke="none">10'-5&quot; x 7'-3&quot;</text>
<text x="626.2" y="1419.2" font-size="17.01" fill="#141414" font-family="Liberation Sans" textLength="91.3" lengthAdjust="spacingAndGlyphs" stroke="none">20'-10&quot; x 22'-8&quot;</text>
<text x="258.7" y="1361.7" font-size="21.37" fill="#141414" font-family="Liberation Sans" textLength="134.3" lengthAdjust="spacingAndGlyphs" stroke="none">DINING ROOM</text>
<path d="M257.7 1367L394 1367" stroke="#141414" stroke-width="1.1"/>
<text x="284.2" y="1385" font-size="17.44" fill="#141414" font-family="Liberation Sans" textLength="83.3" lengthAdjust="spacingAndGlyphs" stroke="none">15'-4&quot; x 12'-8&quot;</text>
<text x="255.5" y="1551.7" font-size="21.8" fill="#141414" font-family="Liberation Sans" textLength="130" lengthAdjust="spacingAndGlyphs" stroke="none">REAR PORCH</text>
<path d="M254.5 1556.7L386.5 1556.7" stroke="#141414" stroke-width="1.1"/>
<text x="282.5" y="1575" font-size="17.01" fill="#141414" font-family="Liberation Sans" textLength="75.5" lengthAdjust="spacingAndGlyphs" stroke="none">15'-0&quot; x 6'-0&quot;</text>
<text x="413.2" y="1804.2" font-size="29.07" fill="#141414" font-family="Liberation Sans" textLength="206.3" lengthAdjust="spacingAndGlyphs" stroke="none">FIRST FLOOR PLAN</text>
<path d="M412.2 1810.5L620.5 1810.5" stroke="#141414" stroke-width="1.8"/>
<text x="1497.5" y="350.7" font-size="21.08" fill="#141414" font-family="Liberation Sans" textLength="230.5" lengthAdjust="spacingAndGlyphs" stroke="none">2ND FLR FRONT PORCH</text>
<path d="M1496.5 356.2L1729 356.2" stroke="#141414" stroke-width="1.1"/>
<text x="1575" y="374.2" font-size="17.01" fill="#141414" font-family="Liberation Sans" textLength="75" lengthAdjust="spacingAndGlyphs" stroke="none">31'-6&quot; x 7'-0&quot;</text>
<text x="1403" y="616.2" font-size="16.42" fill="#141414" font-family="Liberation Sans" textLength="83.2" lengthAdjust="spacingAndGlyphs" stroke="none">15'-0&quot; x 19'-6&quot;</text>
<text x="1748.5" y="574" font-size="20.78" fill="#141414" font-family="Liberation Sans" textLength="128" lengthAdjust="spacingAndGlyphs" stroke="none">BEDROOM #2</text>
<path d="M1747.5 579.7L1877.5 579.7" stroke="#141414" stroke-width="1.1"/>
<text x="1767.5" y="598.2" font-size="17.01" fill="#141414" font-family="Liberation Sans" textLength="91" lengthAdjust="spacingAndGlyphs" stroke="none">13'-10&quot; x 14'-0&quot;</text>
<text x="1319.7" y="1100.5" font-size="16.57" fill="#141414" font-family="Liberation Sans" textLength="83.4" lengthAdjust="spacingAndGlyphs" stroke="none">11'-9&quot; x 14'-0&quot;</text>
<text x="1803" y="1106.7" font-size="16.57" fill="#141414" font-family="Liberation Sans" textLength="82.6" lengthAdjust="spacingAndGlyphs" stroke="none">11'-5&quot; x 14'-0&quot;</text>
<text x="1480" y="1804.5" font-size="29.07" fill="#141414" font-family="Liberation Sans" textLength="237.5" lengthAdjust="spacingAndGlyphs" stroke="none">SECOND FLOOR PLAN</text>
<path d="M1479 1811L1718.5 1811" stroke="#141414" stroke-width="1.8"/>
<text x="2253.2" y="314.2" font-size="17.01" fill="#141414" font-family="Liberation Sans" textLength="83" lengthAdjust="spacingAndGlyphs" stroke="none">15'-4&quot; x 11'-1&quot;</text>
<text x="2619.5" y="301.2" font-size="17.01" fill="#141414" font-family="Liberation Sans" textLength="83.7" lengthAdjust="spacingAndGlyphs" stroke="none">16'-9&quot; x 10'-4&quot;</text>
<text x="2259.2" y="486.2" font-size="28.34" fill="#141414" font-family="Liberation Sans" textLength="477.3" lengthAdjust="spacingAndGlyphs" stroke="none">OPTION DINING ROOM &amp; REAR PORCH AREA</text>
<path d="M2258.2 492.5L2737.5 492.5" stroke="#141414" stroke-width="1.8"/>
<text x="2158.2" y="698" font-size="16.42" fill="#141414" font-family="Liberation Sans" textLength="74.9" lengthAdjust="spacingAndGlyphs" stroke="none">10'-5&quot; x 7'-3&quot;</text>
<text x="2020.9" y="778.8" font-size="28.78" fill="#141414" font-family="Liberation Sans" textLength="293" lengthAdjust="spacingAndGlyphs" stroke="none">OPTION LAUNDRY CABINET</text>
<path d="M2019 785.6L2315.5 785.6" stroke="#141414" stroke-width="1.8"/>
<text x="2035" y="815.5" font-size="27.62" fill="#141414" font-family="Liberation Sans" textLength="266.5" lengthAdjust="spacingAndGlyphs" stroke="none">W/ SINK OR UTILITY SINK</text>
<path d="M2033 823L2302.5 823" stroke="#141414" stroke-width="1.8"/>
<text x="2605" y="788.7" font-size="17.01" fill="#141414" font-family="Liberation Sans" textLength="91.2" lengthAdjust="spacingAndGlyphs" stroke="none">20'-10&quot; x 22'-8&quot;</text>
<text x="2514" y="1112" font-size="29.07" fill="#141414" font-family="Liberation Sans" textLength="247.5" lengthAdjust="spacingAndGlyphs" stroke="none">OPTION GARAGE AREA</text>
<path d="M2513 1118.3L2762.5 1118.3" stroke="#141414" stroke-width="1.8"/>
<text x="2062.5" y="1294" font-size="28.34" fill="#141414" font-family="Liberation Sans" textLength="275.5" lengthAdjust="spacingAndGlyphs" stroke="none">OPTION FIREPLACE AREA</text>
<path d="M2061.5 1300.5L2339 1300.5" stroke="#141414" stroke-width="1.8"/>
<text x="1930.5" y="1608.5" font-size="39.97" fill="#141414" font-family="Liberation Sans" textLength="459.5" lengthAdjust="spacingAndGlyphs" stroke="none">* OPTIONAL PULL DOWN STAIR</text>
<text x="1930.5" y="1655" font-size="39.97" fill="#141414" font-family="Liberation Sans" textLength="290" lengthAdjust="spacingAndGlyphs" stroke="none">AT SECOND FLOOR</text>
<text x="1930.5" y="1744.5" font-size="39.97" fill="#141414" font-family="Liberation Sans" textLength="443.5" lengthAdjust="spacingAndGlyphs" stroke="none">*OPTIONAL POCKET DOOR AT</text>
<text x="1929" y="1790" font-size="39.97" fill="#141414" font-family="Liberation Sans" textLength="238.5" lengthAdjust="spacingAndGlyphs" stroke="none">POWDER ROOM</text>
<path d="M2390.99 1171.01H2409.57M2399.87 1169.07V1229.98M2417.65 1169.07V1229.98M2433.32 1169.07V1229.98M2411.51 1185.87H2433.32M2447.54 1169.07V1229.98M2445.6 1171.01H2460.79M2441.4 1185.87H2461.27M2445.6 1228.04H2460.3M2483.41 1171.01H2495.85M2493.91 1169.07V1213.82Q2493.91 1227.23 2483.41 1228.85M2508.45 1169.07V1229.98M2506.51 1171.01H2522.19M2502.31 1185.87H2522.51M2506.51 1228.04H2521.7M2531.07 1169.07V1229.98M2529.14 1171.01H2544.81M2524.93 1185.87H2545.13M2553.7 1169.07V1229.98M2551.76 1171.01H2567.43M2548.04 1185.87H2567.75M2576.32 1169.07V1229.98M2574.38 1171.01H2590.05M2570.66 1185.87H2590.86M2574.38 1228.04H2589.57M2599.42 1169.07V1229.98M2597.48 1171.01H2606.21C2632.38 1171.01 2632.38 1214.63 2601.68 1214.63M2601.68 1214.63L2622.85 1229.17M2646.28 1171.17C2637.23 1168.74 2629.64 1175.85 2633.35 1186.84L2645.96 1213.34C2649.51 1223.03 2640.46 1230.3 2628.02 1228.69" stroke="#0a0a0a" stroke-width="4" fill="none" />
<ellipse cx="2682.96" cy="1199.28" rx="27.95" ry="29.08" stroke="#0a0a0a" stroke-width="4" fill="none"/>
<path d="M2722.54 1229.98V1169.07L2740.64 1185.22M2740.64 1169.07V1229.98" stroke="#0a0a0a" stroke-width="4" fill="none" stroke-linejoin="bevel"/>
<text x="2394" y="1284.5" font-size="26.89" fill="#141414" font-family="Liberation Sans" textLength="136.5" lengthAdjust="spacingAndGlyphs" stroke="none">TABULATIONS</text>
<rect x="2390" y="1293.5" width="568" height="10" fill="#000" stroke="none"/>
<text x="2416.5" y="1344.5" font-size="26.6" fill="#141414" font-family="Liberation Sans" textLength="144" lengthAdjust="spacingAndGlyphs" stroke="none">HEATED AREA:</text>
<path d="M2415 1350L2562 1350" stroke="#141414" stroke-width="1.3"/>
<text x="2471.5" y="1381.5" font-size="26.6" fill="#141414" font-family="Liberation Sans" textLength="189" lengthAdjust="spacingAndGlyphs" stroke="none">FIRST FLOOR AREA</text>
<text x="2842.5" y="1381.5" font-size="26.6" fill="#141414" font-family="Liberation Sans" textLength="78" lengthAdjust="spacingAndGlyphs" stroke="none">1,547 SF</text>
<text x="2471.5" y="1411" font-size="26.6" fill="#141414" font-family="Liberation Sans" textLength="216.5" lengthAdjust="spacingAndGlyphs" stroke="none">SECOND FLOOR AREA</text>
<text x="2840" y="1411" font-size="26.6" fill="#141414" font-family="Liberation Sans" textLength="79" lengthAdjust="spacingAndGlyphs" stroke="none">1,230 SF</text>
<path d="M2470.5 1417.5L2937.5 1417.5" stroke="#141414" stroke-width="1.5"/>
<text x="2526.5" y="1454.5" font-size="26.6" fill="#141414" font-family="Liberation Sans" textLength="207.5" lengthAdjust="spacingAndGlyphs" stroke="none">TOTAL HEATED AREA</text>
<text x="2841.5" y="1451" font-size="26.6" fill="#141414" font-family="Liberation Sans" textLength="79" lengthAdjust="spacingAndGlyphs" stroke="none">2,777 SF</text>
<text x="2416.5" y="1509.5" font-size="26.6" fill="#141414" font-family="Liberation Sans" textLength="172.5" lengthAdjust="spacingAndGlyphs" stroke="none">UNHEATED AREA:</text>
<path d="M2415 1515L2590.5 1515" stroke="#141414" stroke-width="1.3"/>
<text x="2474" y="1546" font-size="26.6" fill="#141414" font-family="Liberation Sans" textLength="142.5" lengthAdjust="spacingAndGlyphs" stroke="none">GARAGE AREA</text>
<text x="2858" y="1546" font-size="26.6" fill="#141414" font-family="Liberation Sans" textLength="62.5" lengthAdjust="spacingAndGlyphs" stroke="none">434 SF</text>
<text x="2474" y="1575" font-size="26.6" fill="#141414" font-family="Liberation Sans" textLength="287.5" lengthAdjust="spacingAndGlyphs" stroke="none">1ST FLR FRONT PORCH AREA</text>
<text x="2858" y="1575" font-size="26.6" fill="#141414" font-family="Liberation Sans" textLength="62.5" lengthAdjust="spacingAndGlyphs" stroke="none">227 SF</text>
<text x="2474" y="1604.5" font-size="26.6" fill="#141414" font-family="Liberation Sans" textLength="190" lengthAdjust="spacingAndGlyphs" stroke="none">REAR PORCH AREA</text>
<text x="2869" y="1604.5" font-size="26.6" fill="#141414" font-family="Liberation Sans" textLength="51.5" lengthAdjust="spacingAndGlyphs" stroke="none">93 SF</text>
<text x="2474" y="1634" font-size="26.6" fill="#141414" font-family="Liberation Sans" textLength="291.5" lengthAdjust="spacingAndGlyphs" stroke="none">2ND FLR FRONT PORCH AREA</text>
<text x="2858" y="1634" font-size="26.6" fill="#141414" font-family="Liberation Sans" textLength="62.5" lengthAdjust="spacingAndGlyphs" stroke="none">236 SF</text>
<path d="M2470.5 1645L2937.5 1645" stroke="#141414" stroke-width="1.5"/>
<text x="2529" y="1680" font-size="26.6" fill="#141414" font-family="Liberation Sans" textLength="236.5" lengthAdjust="spacingAndGlyphs" stroke="none">TOTAL UNHEATED AREA</text>
<text x="2860.5" y="1677" font-size="26.6" fill="#141414" font-family="Liberation Sans" textLength="62" lengthAdjust="spacingAndGlyphs" stroke="none">990 SF</text>
<text x="2417.5" y="1731" font-size="26.6" fill="#141414" font-family="Liberation Sans" textLength="230.5" lengthAdjust="spacingAndGlyphs" stroke="none">TOTAL COVERED AREA:</text>
<path d="M2416 1737L2649.5 1737" stroke="#141414" stroke-width="1.3"/>
<text x="2844" y="1728.5" font-size="26.6" fill="#141414" font-family="Liberation Sans" textLength="78.5" lengthAdjust="spacingAndGlyphs" stroke="none">3,767 SF</text>
<text x="2416.5" y="1777" font-size="26.6" fill="#141414" font-family="Liberation Sans" textLength="196" lengthAdjust="spacingAndGlyphs" stroke="none">OPT. HEATED AREA:</text>
<path d="M2415 1782.5L2614 1782.5" stroke="#141414" stroke-width="1.3"/>
<text x="2471.5" y="1814" font-size="26.6" fill="#141414" font-family="Liberation Sans" textLength="189" lengthAdjust="spacingAndGlyphs" stroke="none">FIRST FLOOR AREA</text>
<text x="2471.5" y="1843.5" font-size="26.6" fill="#141414" font-family="Liberation Sans" textLength="325" lengthAdjust="spacingAndGlyphs" stroke="none">(IF USE OPT. REAR PORCH AREA)</text>
<text x="2842.5" y="1836" font-size="26.6" fill="#141414" font-family="Liberation Sans" textLength="78" lengthAdjust="spacingAndGlyphs" stroke="none">1,522 SF</text>
<text x="2416.5" y="1887.5" font-size="26.6" fill="#141414" font-family="Liberation Sans" textLength="224" lengthAdjust="spacingAndGlyphs" stroke="none">OPT. UNHEATED AREA:</text>
<path d="M2415 1893.5L2642 1893.5" stroke="#141414" stroke-width="1.3"/>
<text x="2474" y="1924.5" font-size="26.6" fill="#141414" font-family="Liberation Sans" textLength="142.5" lengthAdjust="spacingAndGlyphs" stroke="none">GARAGE AREA</text>
<text x="2858" y="1924.5" font-size="26.6" fill="#141414" font-family="Liberation Sans" textLength="62.5" lengthAdjust="spacingAndGlyphs" stroke="none">502 SF</text>
<text x="2474" y="1961" font-size="26.6" fill="#141414" font-family="Liberation Sans" textLength="190" lengthAdjust="spacingAndGlyphs" stroke="none">REAR PORCH AREA</text>
<text x="2858" y="1961" font-size="26.6" fill="#141414" font-family="Liberation Sans" textLength="62.5" lengthAdjust="spacingAndGlyphs" stroke="none">227 SF</text>
<text x="481.5" y="180" font-size="26.89" fill="#686868" font-family="Liberation Sans" textLength="72" lengthAdjust="spacingAndGlyphs" stroke="none">34’–8”</text>
<text x="1563.7" y="180" font-size="26.89" fill="#686868" font-family="Liberation Sans" textLength="70" lengthAdjust="spacingAndGlyphs" stroke="none">34’–8”</text>
<text x="0" y="0" font-size="26.89" fill="#686868" font-family="Liberation Sans" textLength="58.5" lengthAdjust="spacingAndGlyphs" transform="translate(46.75 376) rotate(-90)" stroke="none">7’–0”</text>
<text x="0" y="0" font-size="26.89" fill="#686868" font-family="Liberation Sans" textLength="58.5" lengthAdjust="spacingAndGlyphs" transform="translate(1127.95 376) rotate(-90)" stroke="none">7’–0”</text>
<text x="0" y="0" font-size="26.89" fill="#686868" font-family="Liberation Sans" textLength="80.2" lengthAdjust="spacingAndGlyphs" transform="translate(46.05 1101) rotate(-90)" stroke="none">61’–5½”</text>
<text x="0" y="0" font-size="26.89" fill="#686868" font-family="Liberation Sans" textLength="68.7" lengthAdjust="spacingAndGlyphs" transform="translate(1127.95 853.7) rotate(-90)" stroke="none">38’–3”</text>
</g>
</svg>
</body></html>
